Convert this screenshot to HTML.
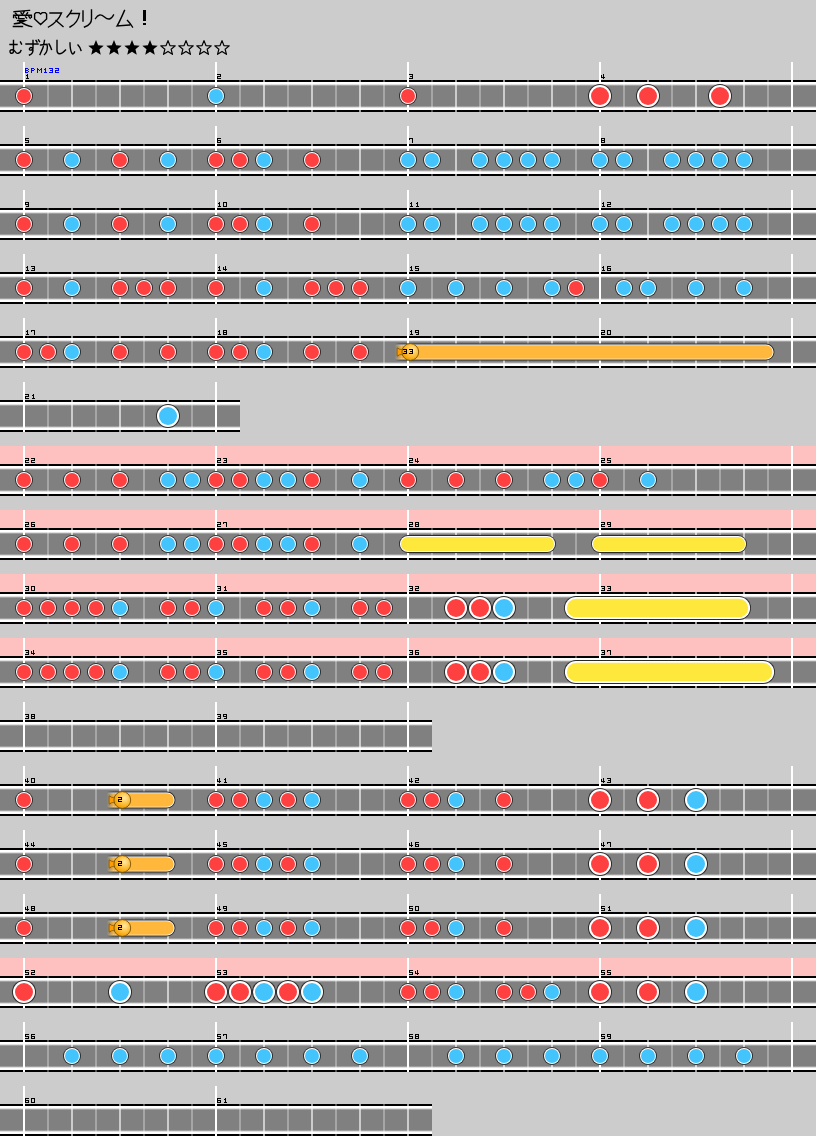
<!DOCTYPE html>
<html><head><meta charset="utf-8"><title>愛♡スクリ～ム！</title>
<style>
html,body{margin:0;padding:0;background:#cccccc;width:816px;height:1136px;overflow:hidden;font-family:"Liberation Sans",sans-serif;}
svg{display:block;}
</style></head><body>
<svg width="816" height="1136" viewBox="0 0 816 1136" shape-rendering="auto"><defs>
<linearGradient id="lane" x1="0" y1="0" x2="0" y2="1">
 <stop offset="0" stop-color="#ffffff"/>
 <stop offset="0.0714" stop-color="#ffffff"/>
 <stop offset="0.1429" stop-color="#808080"/>
 <stop offset="0.8571" stop-color="#808080"/>
 <stop offset="0.9286" stop-color="#ffffff"/>
 <stop offset="1" stop-color="#ffffff"/>
</linearGradient>
<radialGradient id="bhead" cx="0.62" cy="0.38" r="0.62">
 <stop offset="0" stop-color="#ffeaa8"/>
 <stop offset="0.55" stop-color="#ffc040"/>
 <stop offset="1" stop-color="#f0a000"/>
</radialGradient>
<linearGradient id="bmaskgrad" x1="0" y1="0" x2="1" y2="0">
 <stop offset="0" stop-color="#fff" stop-opacity="0"/>
 <stop offset="1" stop-color="#fff" stop-opacity="1"/>
</linearGradient>
<mask id="bm4_0" maskUnits="userSpaceOnUse" x="0" y="318" width="816" height="64"><rect x="394.8" y="318" width="7.5" height="64" fill="url(#bmaskgrad)"/><rect x="402.3" y="318" width="378.2" height="64" fill="#fff"/></mask><mask id="bm11_0" maskUnits="userSpaceOnUse" x="0" y="766" width="816" height="64"><rect x="106.8" y="766" width="7.5" height="64" fill="url(#bmaskgrad)"/><rect x="114.3" y="766" width="67.2" height="64" fill="#fff"/></mask><mask id="bm12_0" maskUnits="userSpaceOnUse" x="0" y="830" width="816" height="64"><rect x="106.8" y="830" width="7.5" height="64" fill="url(#bmaskgrad)"/><rect x="114.3" y="830" width="67.2" height="64" fill="#fff"/></mask><mask id="bm13_0" maskUnits="userSpaceOnUse" x="0" y="894" width="816" height="64"><rect x="106.8" y="894" width="7.5" height="64" fill="url(#bmaskgrad)"/><rect x="114.3" y="894" width="67.2" height="64" fill="#fff"/></mask></defs><rect x="0" y="0" width="816" height="1136" fill="#cccccc"/>
<rect x="0" y="80" width="816" height="32" fill="#000"/>
<rect x="0" y="82" width="816" height="28" fill="url(#lane)"/>
<rect x="47" y="80" width="2" height="32" fill="#fff" fill-opacity="0.3"/>
<rect x="71" y="80" width="2" height="32" fill="#fff" fill-opacity="0.6"/>
<rect x="95" y="80" width="2" height="32" fill="#fff" fill-opacity="0.3"/>
<rect x="119" y="80" width="2" height="32" fill="#fff" fill-opacity="0.6"/>
<rect x="143" y="80" width="2" height="32" fill="#fff" fill-opacity="0.3"/>
<rect x="167" y="80" width="2" height="32" fill="#fff" fill-opacity="0.6"/>
<rect x="191" y="80" width="2" height="32" fill="#fff" fill-opacity="0.3"/>
<rect x="239" y="80" width="2" height="32" fill="#fff" fill-opacity="0.3"/>
<rect x="263" y="80" width="2" height="32" fill="#fff" fill-opacity="0.6"/>
<rect x="287" y="80" width="2" height="32" fill="#fff" fill-opacity="0.3"/>
<rect x="311" y="80" width="2" height="32" fill="#fff" fill-opacity="0.6"/>
<rect x="335" y="80" width="2" height="32" fill="#fff" fill-opacity="0.3"/>
<rect x="359" y="80" width="2" height="32" fill="#fff" fill-opacity="0.6"/>
<rect x="383" y="80" width="2" height="32" fill="#fff" fill-opacity="0.3"/>
<rect x="431" y="80" width="2" height="32" fill="#fff" fill-opacity="0.3"/>
<rect x="455" y="80" width="2" height="32" fill="#fff" fill-opacity="0.6"/>
<rect x="479" y="80" width="2" height="32" fill="#fff" fill-opacity="0.3"/>
<rect x="503" y="80" width="2" height="32" fill="#fff" fill-opacity="0.6"/>
<rect x="527" y="80" width="2" height="32" fill="#fff" fill-opacity="0.3"/>
<rect x="551" y="80" width="2" height="32" fill="#fff" fill-opacity="0.6"/>
<rect x="575" y="80" width="2" height="32" fill="#fff" fill-opacity="0.3"/>
<rect x="623" y="80" width="2" height="32" fill="#fff" fill-opacity="0.3"/>
<rect x="647" y="80" width="2" height="32" fill="#fff" fill-opacity="0.6"/>
<rect x="671" y="80" width="2" height="32" fill="#fff" fill-opacity="0.3"/>
<rect x="695" y="80" width="2" height="32" fill="#fff" fill-opacity="0.6"/>
<rect x="719" y="80" width="2" height="32" fill="#fff" fill-opacity="0.3"/>
<rect x="743" y="80" width="2" height="32" fill="#fff" fill-opacity="0.6"/>
<rect x="767" y="80" width="2" height="32" fill="#fff" fill-opacity="0.3"/>
<rect x="23" y="62" width="2" height="50" fill="#fff"/>
<rect x="215" y="62" width="2" height="50" fill="#fff"/>
<rect x="407" y="62" width="2" height="50" fill="#fff"/>
<rect x="599" y="62" width="2" height="50" fill="#fff"/>
<rect x="791" y="62" width="2" height="50" fill="#fff"/>
<path d="M27,74h1v1h-1zM26,75h2v1h-2zM27,76h1v1h-1zM27,77h1v1h-1zM26,78h3v1h-3z" fill="#000"/>
<path d="M217,74h4v1h-4zM220,75h1v1h-1zM217,76h4v1h-4zM217,77h1v1h-1zM217,78h4v1h-4z" fill="#000"/>
<path d="M409,74h4v1h-4zM412,75h1v1h-1zM410,76h3v1h-3zM412,77h1v1h-1zM409,78h4v1h-4z" fill="#000"/>
<path d="M603,74h1v1h-1zM601,75h1v1h-1zM603,75h1v1h-1zM601,76h1v1h-1zM603,76h1v1h-1zM601,77h4v1h-4zM603,78h1v1h-1z" fill="#000"/>
<path d="M25,68h3v1h-3zM25,69h1v1h-1zM28,69h1v1h-1zM25,70h3v1h-3zM25,71h1v1h-1zM28,71h1v1h-1zM25,72h3v1h-3zM31,68h3v1h-3zM31,69h1v1h-1zM34,69h1v1h-1zM31,70h3v1h-3zM31,71h1v1h-1zM31,72h1v1h-1zM37,68h1v1h-1zM41,68h1v1h-1zM37,69h2v1h-2zM40,69h2v1h-2zM37,70h1v1h-1zM39,70h1v1h-1zM41,70h1v1h-1zM37,71h1v1h-1zM41,71h1v1h-1zM37,72h1v1h-1zM41,72h1v1h-1zM45,68h1v1h-1zM44,69h2v1h-2zM45,70h1v1h-1zM45,71h1v1h-1zM44,72h3v1h-3zM49,68h4v1h-4zM52,69h1v1h-1zM50,70h3v1h-3zM52,71h1v1h-1zM49,72h4v1h-4zM55,68h4v1h-4zM58,69h1v1h-1zM55,70h4v1h-4zM55,71h1v1h-1zM55,72h4v1h-4z" fill="#0000ff"/>
<circle cx="720" cy="96" r="12" fill="#2a2a2a"/>
<circle cx="720" cy="96" r="11" fill="#fff"/>
<circle cx="720" cy="96" r="9" fill="#ff4040"/>
<circle cx="648" cy="96" r="12" fill="#2a2a2a"/>
<circle cx="648" cy="96" r="11" fill="#fff"/>
<circle cx="648" cy="96" r="9" fill="#ff4040"/>
<circle cx="600" cy="96" r="12" fill="#2a2a2a"/>
<circle cx="600" cy="96" r="11" fill="#fff"/>
<circle cx="600" cy="96" r="9" fill="#ff4040"/>
<circle cx="408" cy="96" r="9" fill="#2a2a2a"/>
<circle cx="408" cy="96" r="8" fill="#fff"/>
<circle cx="408" cy="96" r="7" fill="#ff4040"/>
<circle cx="216" cy="96" r="9" fill="#2a2a2a"/>
<circle cx="216" cy="96" r="8" fill="#fff"/>
<circle cx="216" cy="96" r="7" fill="#44c4fc"/>
<circle cx="24" cy="96" r="9" fill="#2a2a2a"/>
<circle cx="24" cy="96" r="8" fill="#fff"/>
<circle cx="24" cy="96" r="7" fill="#ff4040"/>
<rect x="0" y="144" width="816" height="32" fill="#000"/>
<rect x="0" y="146" width="816" height="28" fill="url(#lane)"/>
<rect x="47" y="144" width="2" height="32" fill="#fff" fill-opacity="0.3"/>
<rect x="71" y="144" width="2" height="32" fill="#fff" fill-opacity="0.6"/>
<rect x="95" y="144" width="2" height="32" fill="#fff" fill-opacity="0.3"/>
<rect x="119" y="144" width="2" height="32" fill="#fff" fill-opacity="0.6"/>
<rect x="143" y="144" width="2" height="32" fill="#fff" fill-opacity="0.3"/>
<rect x="167" y="144" width="2" height="32" fill="#fff" fill-opacity="0.6"/>
<rect x="191" y="144" width="2" height="32" fill="#fff" fill-opacity="0.3"/>
<rect x="239" y="144" width="2" height="32" fill="#fff" fill-opacity="0.3"/>
<rect x="263" y="144" width="2" height="32" fill="#fff" fill-opacity="0.6"/>
<rect x="287" y="144" width="2" height="32" fill="#fff" fill-opacity="0.3"/>
<rect x="311" y="144" width="2" height="32" fill="#fff" fill-opacity="0.6"/>
<rect x="335" y="144" width="2" height="32" fill="#fff" fill-opacity="0.3"/>
<rect x="359" y="144" width="2" height="32" fill="#fff" fill-opacity="0.6"/>
<rect x="383" y="144" width="2" height="32" fill="#fff" fill-opacity="0.3"/>
<rect x="431" y="144" width="2" height="32" fill="#fff" fill-opacity="0.3"/>
<rect x="455" y="144" width="2" height="32" fill="#fff" fill-opacity="0.6"/>
<rect x="479" y="144" width="2" height="32" fill="#fff" fill-opacity="0.3"/>
<rect x="503" y="144" width="2" height="32" fill="#fff" fill-opacity="0.6"/>
<rect x="527" y="144" width="2" height="32" fill="#fff" fill-opacity="0.3"/>
<rect x="551" y="144" width="2" height="32" fill="#fff" fill-opacity="0.6"/>
<rect x="575" y="144" width="2" height="32" fill="#fff" fill-opacity="0.3"/>
<rect x="623" y="144" width="2" height="32" fill="#fff" fill-opacity="0.3"/>
<rect x="647" y="144" width="2" height="32" fill="#fff" fill-opacity="0.6"/>
<rect x="671" y="144" width="2" height="32" fill="#fff" fill-opacity="0.3"/>
<rect x="695" y="144" width="2" height="32" fill="#fff" fill-opacity="0.6"/>
<rect x="719" y="144" width="2" height="32" fill="#fff" fill-opacity="0.3"/>
<rect x="743" y="144" width="2" height="32" fill="#fff" fill-opacity="0.6"/>
<rect x="767" y="144" width="2" height="32" fill="#fff" fill-opacity="0.3"/>
<rect x="23" y="126" width="2" height="50" fill="#fff"/>
<rect x="215" y="126" width="2" height="50" fill="#fff"/>
<rect x="407" y="126" width="2" height="50" fill="#fff"/>
<rect x="599" y="126" width="2" height="50" fill="#fff"/>
<rect x="791" y="126" width="2" height="50" fill="#fff"/>
<path d="M25,138h4v1h-4zM25,139h1v1h-1zM25,140h4v1h-4zM28,141h1v1h-1zM25,142h4v1h-4z" fill="#000"/>
<path d="M217,138h4v1h-4zM217,139h1v1h-1zM217,140h4v1h-4zM217,141h1v1h-1zM220,141h1v1h-1zM217,142h4v1h-4z" fill="#000"/>
<path d="M409,138h4v1h-4zM409,139h1v1h-1zM412,139h1v1h-1zM412,140h1v1h-1zM412,141h1v1h-1zM412,142h1v1h-1z" fill="#000"/>
<path d="M601,138h4v1h-4zM601,139h1v1h-1zM604,139h1v1h-1zM601,140h4v1h-4zM601,141h1v1h-1zM604,141h1v1h-1zM601,142h4v1h-4z" fill="#000"/>
<circle cx="744" cy="160" r="9" fill="#2a2a2a"/>
<circle cx="744" cy="160" r="8" fill="#fff"/>
<circle cx="744" cy="160" r="7" fill="#44c4fc"/>
<circle cx="720" cy="160" r="9" fill="#2a2a2a"/>
<circle cx="720" cy="160" r="8" fill="#fff"/>
<circle cx="720" cy="160" r="7" fill="#44c4fc"/>
<circle cx="696" cy="160" r="9" fill="#2a2a2a"/>
<circle cx="696" cy="160" r="8" fill="#fff"/>
<circle cx="696" cy="160" r="7" fill="#44c4fc"/>
<circle cx="672" cy="160" r="9" fill="#2a2a2a"/>
<circle cx="672" cy="160" r="8" fill="#fff"/>
<circle cx="672" cy="160" r="7" fill="#44c4fc"/>
<circle cx="624" cy="160" r="9" fill="#2a2a2a"/>
<circle cx="624" cy="160" r="8" fill="#fff"/>
<circle cx="624" cy="160" r="7" fill="#44c4fc"/>
<circle cx="600" cy="160" r="9" fill="#2a2a2a"/>
<circle cx="600" cy="160" r="8" fill="#fff"/>
<circle cx="600" cy="160" r="7" fill="#44c4fc"/>
<circle cx="552" cy="160" r="9" fill="#2a2a2a"/>
<circle cx="552" cy="160" r="8" fill="#fff"/>
<circle cx="552" cy="160" r="7" fill="#44c4fc"/>
<circle cx="528" cy="160" r="9" fill="#2a2a2a"/>
<circle cx="528" cy="160" r="8" fill="#fff"/>
<circle cx="528" cy="160" r="7" fill="#44c4fc"/>
<circle cx="504" cy="160" r="9" fill="#2a2a2a"/>
<circle cx="504" cy="160" r="8" fill="#fff"/>
<circle cx="504" cy="160" r="7" fill="#44c4fc"/>
<circle cx="480" cy="160" r="9" fill="#2a2a2a"/>
<circle cx="480" cy="160" r="8" fill="#fff"/>
<circle cx="480" cy="160" r="7" fill="#44c4fc"/>
<circle cx="432" cy="160" r="9" fill="#2a2a2a"/>
<circle cx="432" cy="160" r="8" fill="#fff"/>
<circle cx="432" cy="160" r="7" fill="#44c4fc"/>
<circle cx="408" cy="160" r="9" fill="#2a2a2a"/>
<circle cx="408" cy="160" r="8" fill="#fff"/>
<circle cx="408" cy="160" r="7" fill="#44c4fc"/>
<circle cx="312" cy="160" r="9" fill="#2a2a2a"/>
<circle cx="312" cy="160" r="8" fill="#fff"/>
<circle cx="312" cy="160" r="7" fill="#ff4040"/>
<circle cx="264" cy="160" r="9" fill="#2a2a2a"/>
<circle cx="264" cy="160" r="8" fill="#fff"/>
<circle cx="264" cy="160" r="7" fill="#44c4fc"/>
<circle cx="240" cy="160" r="9" fill="#2a2a2a"/>
<circle cx="240" cy="160" r="8" fill="#fff"/>
<circle cx="240" cy="160" r="7" fill="#ff4040"/>
<circle cx="216" cy="160" r="9" fill="#2a2a2a"/>
<circle cx="216" cy="160" r="8" fill="#fff"/>
<circle cx="216" cy="160" r="7" fill="#ff4040"/>
<circle cx="168" cy="160" r="9" fill="#2a2a2a"/>
<circle cx="168" cy="160" r="8" fill="#fff"/>
<circle cx="168" cy="160" r="7" fill="#44c4fc"/>
<circle cx="120" cy="160" r="9" fill="#2a2a2a"/>
<circle cx="120" cy="160" r="8" fill="#fff"/>
<circle cx="120" cy="160" r="7" fill="#ff4040"/>
<circle cx="72" cy="160" r="9" fill="#2a2a2a"/>
<circle cx="72" cy="160" r="8" fill="#fff"/>
<circle cx="72" cy="160" r="7" fill="#44c4fc"/>
<circle cx="24" cy="160" r="9" fill="#2a2a2a"/>
<circle cx="24" cy="160" r="8" fill="#fff"/>
<circle cx="24" cy="160" r="7" fill="#ff4040"/>
<rect x="0" y="208" width="816" height="32" fill="#000"/>
<rect x="0" y="210" width="816" height="28" fill="url(#lane)"/>
<rect x="47" y="208" width="2" height="32" fill="#fff" fill-opacity="0.3"/>
<rect x="71" y="208" width="2" height="32" fill="#fff" fill-opacity="0.6"/>
<rect x="95" y="208" width="2" height="32" fill="#fff" fill-opacity="0.3"/>
<rect x="119" y="208" width="2" height="32" fill="#fff" fill-opacity="0.6"/>
<rect x="143" y="208" width="2" height="32" fill="#fff" fill-opacity="0.3"/>
<rect x="167" y="208" width="2" height="32" fill="#fff" fill-opacity="0.6"/>
<rect x="191" y="208" width="2" height="32" fill="#fff" fill-opacity="0.3"/>
<rect x="239" y="208" width="2" height="32" fill="#fff" fill-opacity="0.3"/>
<rect x="263" y="208" width="2" height="32" fill="#fff" fill-opacity="0.6"/>
<rect x="287" y="208" width="2" height="32" fill="#fff" fill-opacity="0.3"/>
<rect x="311" y="208" width="2" height="32" fill="#fff" fill-opacity="0.6"/>
<rect x="335" y="208" width="2" height="32" fill="#fff" fill-opacity="0.3"/>
<rect x="359" y="208" width="2" height="32" fill="#fff" fill-opacity="0.6"/>
<rect x="383" y="208" width="2" height="32" fill="#fff" fill-opacity="0.3"/>
<rect x="431" y="208" width="2" height="32" fill="#fff" fill-opacity="0.3"/>
<rect x="455" y="208" width="2" height="32" fill="#fff" fill-opacity="0.6"/>
<rect x="479" y="208" width="2" height="32" fill="#fff" fill-opacity="0.3"/>
<rect x="503" y="208" width="2" height="32" fill="#fff" fill-opacity="0.6"/>
<rect x="527" y="208" width="2" height="32" fill="#fff" fill-opacity="0.3"/>
<rect x="551" y="208" width="2" height="32" fill="#fff" fill-opacity="0.6"/>
<rect x="575" y="208" width="2" height="32" fill="#fff" fill-opacity="0.3"/>
<rect x="623" y="208" width="2" height="32" fill="#fff" fill-opacity="0.3"/>
<rect x="647" y="208" width="2" height="32" fill="#fff" fill-opacity="0.6"/>
<rect x="671" y="208" width="2" height="32" fill="#fff" fill-opacity="0.3"/>
<rect x="695" y="208" width="2" height="32" fill="#fff" fill-opacity="0.6"/>
<rect x="719" y="208" width="2" height="32" fill="#fff" fill-opacity="0.3"/>
<rect x="743" y="208" width="2" height="32" fill="#fff" fill-opacity="0.6"/>
<rect x="767" y="208" width="2" height="32" fill="#fff" fill-opacity="0.3"/>
<rect x="23" y="190" width="2" height="50" fill="#fff"/>
<rect x="215" y="190" width="2" height="50" fill="#fff"/>
<rect x="407" y="190" width="2" height="50" fill="#fff"/>
<rect x="599" y="190" width="2" height="50" fill="#fff"/>
<rect x="791" y="190" width="2" height="50" fill="#fff"/>
<path d="M25,202h4v1h-4zM25,203h1v1h-1zM28,203h1v1h-1zM25,204h4v1h-4zM28,205h1v1h-1zM26,206h3v1h-3z" fill="#000"/>
<path d="M219,202h1v1h-1zM218,203h2v1h-2zM219,204h1v1h-1zM219,205h1v1h-1zM218,206h3v1h-3zM223,202h4v1h-4zM223,203h1v1h-1zM226,203h1v1h-1zM223,204h1v1h-1zM226,204h1v1h-1zM223,205h1v1h-1zM226,205h1v1h-1zM223,206h4v1h-4z" fill="#000"/>
<path d="M411,202h1v1h-1zM410,203h2v1h-2zM411,204h1v1h-1zM411,205h1v1h-1zM410,206h3v1h-3zM417,202h1v1h-1zM416,203h2v1h-2zM417,204h1v1h-1zM417,205h1v1h-1zM416,206h3v1h-3z" fill="#000"/>
<path d="M603,202h1v1h-1zM602,203h2v1h-2zM603,204h1v1h-1zM603,205h1v1h-1zM602,206h3v1h-3zM607,202h4v1h-4zM610,203h1v1h-1zM607,204h4v1h-4zM607,205h1v1h-1zM607,206h4v1h-4z" fill="#000"/>
<circle cx="744" cy="224" r="9" fill="#2a2a2a"/>
<circle cx="744" cy="224" r="8" fill="#fff"/>
<circle cx="744" cy="224" r="7" fill="#44c4fc"/>
<circle cx="720" cy="224" r="9" fill="#2a2a2a"/>
<circle cx="720" cy="224" r="8" fill="#fff"/>
<circle cx="720" cy="224" r="7" fill="#44c4fc"/>
<circle cx="696" cy="224" r="9" fill="#2a2a2a"/>
<circle cx="696" cy="224" r="8" fill="#fff"/>
<circle cx="696" cy="224" r="7" fill="#44c4fc"/>
<circle cx="672" cy="224" r="9" fill="#2a2a2a"/>
<circle cx="672" cy="224" r="8" fill="#fff"/>
<circle cx="672" cy="224" r="7" fill="#44c4fc"/>
<circle cx="624" cy="224" r="9" fill="#2a2a2a"/>
<circle cx="624" cy="224" r="8" fill="#fff"/>
<circle cx="624" cy="224" r="7" fill="#44c4fc"/>
<circle cx="600" cy="224" r="9" fill="#2a2a2a"/>
<circle cx="600" cy="224" r="8" fill="#fff"/>
<circle cx="600" cy="224" r="7" fill="#44c4fc"/>
<circle cx="552" cy="224" r="9" fill="#2a2a2a"/>
<circle cx="552" cy="224" r="8" fill="#fff"/>
<circle cx="552" cy="224" r="7" fill="#44c4fc"/>
<circle cx="528" cy="224" r="9" fill="#2a2a2a"/>
<circle cx="528" cy="224" r="8" fill="#fff"/>
<circle cx="528" cy="224" r="7" fill="#44c4fc"/>
<circle cx="504" cy="224" r="9" fill="#2a2a2a"/>
<circle cx="504" cy="224" r="8" fill="#fff"/>
<circle cx="504" cy="224" r="7" fill="#44c4fc"/>
<circle cx="480" cy="224" r="9" fill="#2a2a2a"/>
<circle cx="480" cy="224" r="8" fill="#fff"/>
<circle cx="480" cy="224" r="7" fill="#44c4fc"/>
<circle cx="432" cy="224" r="9" fill="#2a2a2a"/>
<circle cx="432" cy="224" r="8" fill="#fff"/>
<circle cx="432" cy="224" r="7" fill="#44c4fc"/>
<circle cx="408" cy="224" r="9" fill="#2a2a2a"/>
<circle cx="408" cy="224" r="8" fill="#fff"/>
<circle cx="408" cy="224" r="7" fill="#44c4fc"/>
<circle cx="312" cy="224" r="9" fill="#2a2a2a"/>
<circle cx="312" cy="224" r="8" fill="#fff"/>
<circle cx="312" cy="224" r="7" fill="#ff4040"/>
<circle cx="264" cy="224" r="9" fill="#2a2a2a"/>
<circle cx="264" cy="224" r="8" fill="#fff"/>
<circle cx="264" cy="224" r="7" fill="#44c4fc"/>
<circle cx="240" cy="224" r="9" fill="#2a2a2a"/>
<circle cx="240" cy="224" r="8" fill="#fff"/>
<circle cx="240" cy="224" r="7" fill="#ff4040"/>
<circle cx="216" cy="224" r="9" fill="#2a2a2a"/>
<circle cx="216" cy="224" r="8" fill="#fff"/>
<circle cx="216" cy="224" r="7" fill="#ff4040"/>
<circle cx="168" cy="224" r="9" fill="#2a2a2a"/>
<circle cx="168" cy="224" r="8" fill="#fff"/>
<circle cx="168" cy="224" r="7" fill="#44c4fc"/>
<circle cx="120" cy="224" r="9" fill="#2a2a2a"/>
<circle cx="120" cy="224" r="8" fill="#fff"/>
<circle cx="120" cy="224" r="7" fill="#ff4040"/>
<circle cx="72" cy="224" r="9" fill="#2a2a2a"/>
<circle cx="72" cy="224" r="8" fill="#fff"/>
<circle cx="72" cy="224" r="7" fill="#44c4fc"/>
<circle cx="24" cy="224" r="9" fill="#2a2a2a"/>
<circle cx="24" cy="224" r="8" fill="#fff"/>
<circle cx="24" cy="224" r="7" fill="#ff4040"/>
<rect x="0" y="272" width="816" height="32" fill="#000"/>
<rect x="0" y="274" width="816" height="28" fill="url(#lane)"/>
<rect x="47" y="272" width="2" height="32" fill="#fff" fill-opacity="0.3"/>
<rect x="71" y="272" width="2" height="32" fill="#fff" fill-opacity="0.6"/>
<rect x="95" y="272" width="2" height="32" fill="#fff" fill-opacity="0.3"/>
<rect x="119" y="272" width="2" height="32" fill="#fff" fill-opacity="0.6"/>
<rect x="143" y="272" width="2" height="32" fill="#fff" fill-opacity="0.3"/>
<rect x="167" y="272" width="2" height="32" fill="#fff" fill-opacity="0.6"/>
<rect x="191" y="272" width="2" height="32" fill="#fff" fill-opacity="0.3"/>
<rect x="239" y="272" width="2" height="32" fill="#fff" fill-opacity="0.3"/>
<rect x="263" y="272" width="2" height="32" fill="#fff" fill-opacity="0.6"/>
<rect x="287" y="272" width="2" height="32" fill="#fff" fill-opacity="0.3"/>
<rect x="311" y="272" width="2" height="32" fill="#fff" fill-opacity="0.6"/>
<rect x="335" y="272" width="2" height="32" fill="#fff" fill-opacity="0.3"/>
<rect x="359" y="272" width="2" height="32" fill="#fff" fill-opacity="0.6"/>
<rect x="383" y="272" width="2" height="32" fill="#fff" fill-opacity="0.3"/>
<rect x="431" y="272" width="2" height="32" fill="#fff" fill-opacity="0.3"/>
<rect x="455" y="272" width="2" height="32" fill="#fff" fill-opacity="0.6"/>
<rect x="479" y="272" width="2" height="32" fill="#fff" fill-opacity="0.3"/>
<rect x="503" y="272" width="2" height="32" fill="#fff" fill-opacity="0.6"/>
<rect x="527" y="272" width="2" height="32" fill="#fff" fill-opacity="0.3"/>
<rect x="551" y="272" width="2" height="32" fill="#fff" fill-opacity="0.6"/>
<rect x="575" y="272" width="2" height="32" fill="#fff" fill-opacity="0.3"/>
<rect x="623" y="272" width="2" height="32" fill="#fff" fill-opacity="0.3"/>
<rect x="647" y="272" width="2" height="32" fill="#fff" fill-opacity="0.6"/>
<rect x="671" y="272" width="2" height="32" fill="#fff" fill-opacity="0.3"/>
<rect x="695" y="272" width="2" height="32" fill="#fff" fill-opacity="0.6"/>
<rect x="719" y="272" width="2" height="32" fill="#fff" fill-opacity="0.3"/>
<rect x="743" y="272" width="2" height="32" fill="#fff" fill-opacity="0.6"/>
<rect x="767" y="272" width="2" height="32" fill="#fff" fill-opacity="0.3"/>
<rect x="23" y="254" width="2" height="50" fill="#fff"/>
<rect x="215" y="254" width="2" height="50" fill="#fff"/>
<rect x="407" y="254" width="2" height="50" fill="#fff"/>
<rect x="599" y="254" width="2" height="50" fill="#fff"/>
<rect x="791" y="254" width="2" height="50" fill="#fff"/>
<path d="M27,266h1v1h-1zM26,267h2v1h-2zM27,268h1v1h-1zM27,269h1v1h-1zM26,270h3v1h-3zM31,266h4v1h-4zM34,267h1v1h-1zM32,268h3v1h-3zM34,269h1v1h-1zM31,270h4v1h-4z" fill="#000"/>
<path d="M219,266h1v1h-1zM218,267h2v1h-2zM219,268h1v1h-1zM219,269h1v1h-1zM218,270h3v1h-3zM225,266h1v1h-1zM223,267h1v1h-1zM225,267h1v1h-1zM223,268h1v1h-1zM225,268h1v1h-1zM223,269h4v1h-4zM225,270h1v1h-1z" fill="#000"/>
<path d="M411,266h1v1h-1zM410,267h2v1h-2zM411,268h1v1h-1zM411,269h1v1h-1zM410,270h3v1h-3zM415,266h4v1h-4zM415,267h1v1h-1zM415,268h4v1h-4zM418,269h1v1h-1zM415,270h4v1h-4z" fill="#000"/>
<path d="M603,266h1v1h-1zM602,267h2v1h-2zM603,268h1v1h-1zM603,269h1v1h-1zM602,270h3v1h-3zM607,266h4v1h-4zM607,267h1v1h-1zM607,268h4v1h-4zM607,269h1v1h-1zM610,269h1v1h-1zM607,270h4v1h-4z" fill="#000"/>
<circle cx="744" cy="288" r="9" fill="#2a2a2a"/>
<circle cx="744" cy="288" r="8" fill="#fff"/>
<circle cx="744" cy="288" r="7" fill="#44c4fc"/>
<circle cx="696" cy="288" r="9" fill="#2a2a2a"/>
<circle cx="696" cy="288" r="8" fill="#fff"/>
<circle cx="696" cy="288" r="7" fill="#44c4fc"/>
<circle cx="648" cy="288" r="9" fill="#2a2a2a"/>
<circle cx="648" cy="288" r="8" fill="#fff"/>
<circle cx="648" cy="288" r="7" fill="#44c4fc"/>
<circle cx="624" cy="288" r="9" fill="#2a2a2a"/>
<circle cx="624" cy="288" r="8" fill="#fff"/>
<circle cx="624" cy="288" r="7" fill="#44c4fc"/>
<circle cx="576" cy="288" r="9" fill="#2a2a2a"/>
<circle cx="576" cy="288" r="8" fill="#fff"/>
<circle cx="576" cy="288" r="7" fill="#ff4040"/>
<circle cx="552" cy="288" r="9" fill="#2a2a2a"/>
<circle cx="552" cy="288" r="8" fill="#fff"/>
<circle cx="552" cy="288" r="7" fill="#44c4fc"/>
<circle cx="504" cy="288" r="9" fill="#2a2a2a"/>
<circle cx="504" cy="288" r="8" fill="#fff"/>
<circle cx="504" cy="288" r="7" fill="#44c4fc"/>
<circle cx="456" cy="288" r="9" fill="#2a2a2a"/>
<circle cx="456" cy="288" r="8" fill="#fff"/>
<circle cx="456" cy="288" r="7" fill="#44c4fc"/>
<circle cx="408" cy="288" r="9" fill="#2a2a2a"/>
<circle cx="408" cy="288" r="8" fill="#fff"/>
<circle cx="408" cy="288" r="7" fill="#44c4fc"/>
<circle cx="360" cy="288" r="9" fill="#2a2a2a"/>
<circle cx="360" cy="288" r="8" fill="#fff"/>
<circle cx="360" cy="288" r="7" fill="#ff4040"/>
<circle cx="336" cy="288" r="9" fill="#2a2a2a"/>
<circle cx="336" cy="288" r="8" fill="#fff"/>
<circle cx="336" cy="288" r="7" fill="#ff4040"/>
<circle cx="312" cy="288" r="9" fill="#2a2a2a"/>
<circle cx="312" cy="288" r="8" fill="#fff"/>
<circle cx="312" cy="288" r="7" fill="#ff4040"/>
<circle cx="264" cy="288" r="9" fill="#2a2a2a"/>
<circle cx="264" cy="288" r="8" fill="#fff"/>
<circle cx="264" cy="288" r="7" fill="#44c4fc"/>
<circle cx="216" cy="288" r="9" fill="#2a2a2a"/>
<circle cx="216" cy="288" r="8" fill="#fff"/>
<circle cx="216" cy="288" r="7" fill="#ff4040"/>
<circle cx="168" cy="288" r="9" fill="#2a2a2a"/>
<circle cx="168" cy="288" r="8" fill="#fff"/>
<circle cx="168" cy="288" r="7" fill="#ff4040"/>
<circle cx="144" cy="288" r="9" fill="#2a2a2a"/>
<circle cx="144" cy="288" r="8" fill="#fff"/>
<circle cx="144" cy="288" r="7" fill="#ff4040"/>
<circle cx="120" cy="288" r="9" fill="#2a2a2a"/>
<circle cx="120" cy="288" r="8" fill="#fff"/>
<circle cx="120" cy="288" r="7" fill="#ff4040"/>
<circle cx="72" cy="288" r="9" fill="#2a2a2a"/>
<circle cx="72" cy="288" r="8" fill="#fff"/>
<circle cx="72" cy="288" r="7" fill="#44c4fc"/>
<circle cx="24" cy="288" r="9" fill="#2a2a2a"/>
<circle cx="24" cy="288" r="8" fill="#fff"/>
<circle cx="24" cy="288" r="7" fill="#ff4040"/>
<rect x="0" y="336" width="816" height="32" fill="#000"/>
<rect x="0" y="338" width="816" height="28" fill="url(#lane)"/>
<rect x="47" y="336" width="2" height="32" fill="#fff" fill-opacity="0.3"/>
<rect x="71" y="336" width="2" height="32" fill="#fff" fill-opacity="0.6"/>
<rect x="95" y="336" width="2" height="32" fill="#fff" fill-opacity="0.3"/>
<rect x="119" y="336" width="2" height="32" fill="#fff" fill-opacity="0.6"/>
<rect x="143" y="336" width="2" height="32" fill="#fff" fill-opacity="0.3"/>
<rect x="167" y="336" width="2" height="32" fill="#fff" fill-opacity="0.6"/>
<rect x="191" y="336" width="2" height="32" fill="#fff" fill-opacity="0.3"/>
<rect x="239" y="336" width="2" height="32" fill="#fff" fill-opacity="0.3"/>
<rect x="263" y="336" width="2" height="32" fill="#fff" fill-opacity="0.6"/>
<rect x="287" y="336" width="2" height="32" fill="#fff" fill-opacity="0.3"/>
<rect x="311" y="336" width="2" height="32" fill="#fff" fill-opacity="0.6"/>
<rect x="335" y="336" width="2" height="32" fill="#fff" fill-opacity="0.3"/>
<rect x="359" y="336" width="2" height="32" fill="#fff" fill-opacity="0.6"/>
<rect x="383" y="336" width="2" height="32" fill="#fff" fill-opacity="0.3"/>
<rect x="431" y="336" width="2" height="32" fill="#fff" fill-opacity="0.3"/>
<rect x="455" y="336" width="2" height="32" fill="#fff" fill-opacity="0.6"/>
<rect x="479" y="336" width="2" height="32" fill="#fff" fill-opacity="0.3"/>
<rect x="503" y="336" width="2" height="32" fill="#fff" fill-opacity="0.6"/>
<rect x="527" y="336" width="2" height="32" fill="#fff" fill-opacity="0.3"/>
<rect x="551" y="336" width="2" height="32" fill="#fff" fill-opacity="0.6"/>
<rect x="575" y="336" width="2" height="32" fill="#fff" fill-opacity="0.3"/>
<rect x="623" y="336" width="2" height="32" fill="#fff" fill-opacity="0.3"/>
<rect x="647" y="336" width="2" height="32" fill="#fff" fill-opacity="0.6"/>
<rect x="671" y="336" width="2" height="32" fill="#fff" fill-opacity="0.3"/>
<rect x="695" y="336" width="2" height="32" fill="#fff" fill-opacity="0.6"/>
<rect x="719" y="336" width="2" height="32" fill="#fff" fill-opacity="0.3"/>
<rect x="743" y="336" width="2" height="32" fill="#fff" fill-opacity="0.6"/>
<rect x="767" y="336" width="2" height="32" fill="#fff" fill-opacity="0.3"/>
<rect x="23" y="318" width="2" height="50" fill="#fff"/>
<rect x="215" y="318" width="2" height="50" fill="#fff"/>
<rect x="407" y="318" width="2" height="50" fill="#fff"/>
<rect x="599" y="318" width="2" height="50" fill="#fff"/>
<rect x="791" y="318" width="2" height="50" fill="#fff"/>
<path d="M27,330h1v1h-1zM26,331h2v1h-2zM27,332h1v1h-1zM27,333h1v1h-1zM26,334h3v1h-3zM31,330h4v1h-4zM31,331h1v1h-1zM34,331h1v1h-1zM34,332h1v1h-1zM34,333h1v1h-1zM34,334h1v1h-1z" fill="#000"/>
<path d="M219,330h1v1h-1zM218,331h2v1h-2zM219,332h1v1h-1zM219,333h1v1h-1zM218,334h3v1h-3zM223,330h4v1h-4zM223,331h1v1h-1zM226,331h1v1h-1zM223,332h4v1h-4zM223,333h1v1h-1zM226,333h1v1h-1zM223,334h4v1h-4z" fill="#000"/>
<path d="M411,330h1v1h-1zM410,331h2v1h-2zM411,332h1v1h-1zM411,333h1v1h-1zM410,334h3v1h-3zM415,330h4v1h-4zM415,331h1v1h-1zM418,331h1v1h-1zM415,332h4v1h-4zM418,333h1v1h-1zM416,334h3v1h-3z" fill="#000"/>
<path d="M601,330h4v1h-4zM604,331h1v1h-1zM601,332h4v1h-4zM601,333h1v1h-1zM601,334h4v1h-4zM607,330h4v1h-4zM607,331h1v1h-1zM610,331h1v1h-1zM607,332h1v1h-1zM610,332h1v1h-1zM607,333h1v1h-1zM610,333h1v1h-1zM607,334h4v1h-4z" fill="#000"/>
<g mask="url(#bm4_0)">
<rect x="387.8" y="343.5" width="386.7" height="17.0" rx="8.5" fill="#2a2a2a"/>
<rect x="388.7" y="344.4" width="384.9" height="15.2" rx="7.6" fill="#fff"/>
<rect x="389.6" y="345.3" width="383.09999999999997" height="13.399999999999999" rx="6.699999999999999" fill="#ffb83c"/>
</g>
<path d="M397.1,348 L398.1,348 C398.8,349.5 400.3,349.7 403.3,349 L403.3,355 C400.3,354.3 398.8,354.5 398.1,356 L397.1,356 Z" fill="#ff9c00" stroke="#6a4800" stroke-width="0.7"/>
<circle cx="410.3" cy="352" r="8.4" fill="url(#bhead)" stroke="#6a4800" stroke-width="0.8"/>
<path d="M403,349h4v1h-4zM406,350h1v1h-1zM404,351h3v1h-3zM406,352h1v1h-1zM403,353h4v1h-4zM409,349h4v1h-4zM412,350h1v1h-1zM410,351h3v1h-3zM412,352h1v1h-1zM409,353h4v1h-4z" fill="#000"/>
<circle cx="360" cy="352" r="9" fill="#2a2a2a"/>
<circle cx="360" cy="352" r="8" fill="#fff"/>
<circle cx="360" cy="352" r="7" fill="#ff4040"/>
<circle cx="312" cy="352" r="9" fill="#2a2a2a"/>
<circle cx="312" cy="352" r="8" fill="#fff"/>
<circle cx="312" cy="352" r="7" fill="#ff4040"/>
<circle cx="264" cy="352" r="9" fill="#2a2a2a"/>
<circle cx="264" cy="352" r="8" fill="#fff"/>
<circle cx="264" cy="352" r="7" fill="#44c4fc"/>
<circle cx="240" cy="352" r="9" fill="#2a2a2a"/>
<circle cx="240" cy="352" r="8" fill="#fff"/>
<circle cx="240" cy="352" r="7" fill="#ff4040"/>
<circle cx="216" cy="352" r="9" fill="#2a2a2a"/>
<circle cx="216" cy="352" r="8" fill="#fff"/>
<circle cx="216" cy="352" r="7" fill="#ff4040"/>
<circle cx="168" cy="352" r="9" fill="#2a2a2a"/>
<circle cx="168" cy="352" r="8" fill="#fff"/>
<circle cx="168" cy="352" r="7" fill="#ff4040"/>
<circle cx="120" cy="352" r="9" fill="#2a2a2a"/>
<circle cx="120" cy="352" r="8" fill="#fff"/>
<circle cx="120" cy="352" r="7" fill="#ff4040"/>
<circle cx="72" cy="352" r="9" fill="#2a2a2a"/>
<circle cx="72" cy="352" r="8" fill="#fff"/>
<circle cx="72" cy="352" r="7" fill="#44c4fc"/>
<circle cx="48" cy="352" r="9" fill="#2a2a2a"/>
<circle cx="48" cy="352" r="8" fill="#fff"/>
<circle cx="48" cy="352" r="7" fill="#ff4040"/>
<circle cx="24" cy="352" r="9" fill="#2a2a2a"/>
<circle cx="24" cy="352" r="8" fill="#fff"/>
<circle cx="24" cy="352" r="7" fill="#ff4040"/>
<rect x="0" y="400" width="240" height="32" fill="#000"/>
<rect x="0" y="402" width="240" height="28" fill="url(#lane)"/>
<rect x="47" y="400" width="2" height="32" fill="#fff" fill-opacity="0.3"/>
<rect x="71" y="400" width="2" height="32" fill="#fff" fill-opacity="0.6"/>
<rect x="95" y="400" width="2" height="32" fill="#fff" fill-opacity="0.3"/>
<rect x="119" y="400" width="2" height="32" fill="#fff" fill-opacity="0.6"/>
<rect x="143" y="400" width="2" height="32" fill="#fff" fill-opacity="0.3"/>
<rect x="167" y="400" width="2" height="32" fill="#fff" fill-opacity="0.6"/>
<rect x="191" y="400" width="2" height="32" fill="#fff" fill-opacity="0.3"/>
<rect x="23" y="382" width="2" height="50" fill="#fff"/>
<rect x="215" y="382" width="2" height="50" fill="#fff"/>
<path d="M25,394h4v1h-4zM28,395h1v1h-1zM25,396h4v1h-4zM25,397h1v1h-1zM25,398h4v1h-4zM33,394h1v1h-1zM32,395h2v1h-2zM33,396h1v1h-1zM33,397h1v1h-1zM32,398h3v1h-3z" fill="#000"/>
<circle cx="168" cy="416" r="12" fill="#2a2a2a"/>
<circle cx="168" cy="416" r="11" fill="#fff"/>
<circle cx="168" cy="416" r="9" fill="#44c4fc"/>
<rect x="0" y="446" width="816" height="18" fill="#ffc0c0"/>
<rect x="0" y="464" width="816" height="32" fill="#000"/>
<rect x="0" y="466" width="816" height="28" fill="url(#lane)"/>
<rect x="47" y="464" width="2" height="32" fill="#fff" fill-opacity="0.3"/>
<rect x="71" y="464" width="2" height="32" fill="#fff" fill-opacity="0.6"/>
<rect x="95" y="464" width="2" height="32" fill="#fff" fill-opacity="0.3"/>
<rect x="119" y="464" width="2" height="32" fill="#fff" fill-opacity="0.6"/>
<rect x="143" y="464" width="2" height="32" fill="#fff" fill-opacity="0.3"/>
<rect x="167" y="464" width="2" height="32" fill="#fff" fill-opacity="0.6"/>
<rect x="191" y="464" width="2" height="32" fill="#fff" fill-opacity="0.3"/>
<rect x="239" y="464" width="2" height="32" fill="#fff" fill-opacity="0.3"/>
<rect x="263" y="464" width="2" height="32" fill="#fff" fill-opacity="0.6"/>
<rect x="287" y="464" width="2" height="32" fill="#fff" fill-opacity="0.3"/>
<rect x="311" y="464" width="2" height="32" fill="#fff" fill-opacity="0.6"/>
<rect x="335" y="464" width="2" height="32" fill="#fff" fill-opacity="0.3"/>
<rect x="359" y="464" width="2" height="32" fill="#fff" fill-opacity="0.6"/>
<rect x="383" y="464" width="2" height="32" fill="#fff" fill-opacity="0.3"/>
<rect x="431" y="464" width="2" height="32" fill="#fff" fill-opacity="0.3"/>
<rect x="455" y="464" width="2" height="32" fill="#fff" fill-opacity="0.6"/>
<rect x="479" y="464" width="2" height="32" fill="#fff" fill-opacity="0.3"/>
<rect x="503" y="464" width="2" height="32" fill="#fff" fill-opacity="0.6"/>
<rect x="527" y="464" width="2" height="32" fill="#fff" fill-opacity="0.3"/>
<rect x="551" y="464" width="2" height="32" fill="#fff" fill-opacity="0.6"/>
<rect x="575" y="464" width="2" height="32" fill="#fff" fill-opacity="0.3"/>
<rect x="623" y="464" width="2" height="32" fill="#fff" fill-opacity="0.3"/>
<rect x="647" y="464" width="2" height="32" fill="#fff" fill-opacity="0.6"/>
<rect x="671" y="464" width="2" height="32" fill="#fff" fill-opacity="0.3"/>
<rect x="695" y="464" width="2" height="32" fill="#fff" fill-opacity="0.6"/>
<rect x="719" y="464" width="2" height="32" fill="#fff" fill-opacity="0.3"/>
<rect x="743" y="464" width="2" height="32" fill="#fff" fill-opacity="0.6"/>
<rect x="767" y="464" width="2" height="32" fill="#fff" fill-opacity="0.3"/>
<rect x="23" y="446" width="2" height="50" fill="#fff"/>
<rect x="215" y="446" width="2" height="50" fill="#fff"/>
<rect x="407" y="446" width="2" height="50" fill="#fff"/>
<rect x="599" y="446" width="2" height="50" fill="#fff"/>
<rect x="791" y="446" width="2" height="50" fill="#fff"/>
<path d="M25,458h4v1h-4zM28,459h1v1h-1zM25,460h4v1h-4zM25,461h1v1h-1zM25,462h4v1h-4zM31,458h4v1h-4zM34,459h1v1h-1zM31,460h4v1h-4zM31,461h1v1h-1zM31,462h4v1h-4z" fill="#000"/>
<path d="M217,458h4v1h-4zM220,459h1v1h-1zM217,460h4v1h-4zM217,461h1v1h-1zM217,462h4v1h-4zM223,458h4v1h-4zM226,459h1v1h-1zM224,460h3v1h-3zM226,461h1v1h-1zM223,462h4v1h-4z" fill="#000"/>
<path d="M409,458h4v1h-4zM412,459h1v1h-1zM409,460h4v1h-4zM409,461h1v1h-1zM409,462h4v1h-4zM417,458h1v1h-1zM415,459h1v1h-1zM417,459h1v1h-1zM415,460h1v1h-1zM417,460h1v1h-1zM415,461h4v1h-4zM417,462h1v1h-1z" fill="#000"/>
<path d="M601,458h4v1h-4zM604,459h1v1h-1zM601,460h4v1h-4zM601,461h1v1h-1zM601,462h4v1h-4zM607,458h4v1h-4zM607,459h1v1h-1zM607,460h4v1h-4zM610,461h1v1h-1zM607,462h4v1h-4z" fill="#000"/>
<circle cx="648" cy="480" r="9" fill="#2a2a2a"/>
<circle cx="648" cy="480" r="8" fill="#fff"/>
<circle cx="648" cy="480" r="7" fill="#44c4fc"/>
<circle cx="600" cy="480" r="9" fill="#2a2a2a"/>
<circle cx="600" cy="480" r="8" fill="#fff"/>
<circle cx="600" cy="480" r="7" fill="#ff4040"/>
<circle cx="576" cy="480" r="9" fill="#2a2a2a"/>
<circle cx="576" cy="480" r="8" fill="#fff"/>
<circle cx="576" cy="480" r="7" fill="#44c4fc"/>
<circle cx="552" cy="480" r="9" fill="#2a2a2a"/>
<circle cx="552" cy="480" r="8" fill="#fff"/>
<circle cx="552" cy="480" r="7" fill="#44c4fc"/>
<circle cx="504" cy="480" r="9" fill="#2a2a2a"/>
<circle cx="504" cy="480" r="8" fill="#fff"/>
<circle cx="504" cy="480" r="7" fill="#ff4040"/>
<circle cx="456" cy="480" r="9" fill="#2a2a2a"/>
<circle cx="456" cy="480" r="8" fill="#fff"/>
<circle cx="456" cy="480" r="7" fill="#ff4040"/>
<circle cx="408" cy="480" r="9" fill="#2a2a2a"/>
<circle cx="408" cy="480" r="8" fill="#fff"/>
<circle cx="408" cy="480" r="7" fill="#ff4040"/>
<circle cx="360" cy="480" r="9" fill="#2a2a2a"/>
<circle cx="360" cy="480" r="8" fill="#fff"/>
<circle cx="360" cy="480" r="7" fill="#44c4fc"/>
<circle cx="312" cy="480" r="9" fill="#2a2a2a"/>
<circle cx="312" cy="480" r="8" fill="#fff"/>
<circle cx="312" cy="480" r="7" fill="#ff4040"/>
<circle cx="288" cy="480" r="9" fill="#2a2a2a"/>
<circle cx="288" cy="480" r="8" fill="#fff"/>
<circle cx="288" cy="480" r="7" fill="#44c4fc"/>
<circle cx="264" cy="480" r="9" fill="#2a2a2a"/>
<circle cx="264" cy="480" r="8" fill="#fff"/>
<circle cx="264" cy="480" r="7" fill="#44c4fc"/>
<circle cx="240" cy="480" r="9" fill="#2a2a2a"/>
<circle cx="240" cy="480" r="8" fill="#fff"/>
<circle cx="240" cy="480" r="7" fill="#ff4040"/>
<circle cx="216" cy="480" r="9" fill="#2a2a2a"/>
<circle cx="216" cy="480" r="8" fill="#fff"/>
<circle cx="216" cy="480" r="7" fill="#ff4040"/>
<circle cx="192" cy="480" r="9" fill="#2a2a2a"/>
<circle cx="192" cy="480" r="8" fill="#fff"/>
<circle cx="192" cy="480" r="7" fill="#44c4fc"/>
<circle cx="168" cy="480" r="9" fill="#2a2a2a"/>
<circle cx="168" cy="480" r="8" fill="#fff"/>
<circle cx="168" cy="480" r="7" fill="#44c4fc"/>
<circle cx="120" cy="480" r="9" fill="#2a2a2a"/>
<circle cx="120" cy="480" r="8" fill="#fff"/>
<circle cx="120" cy="480" r="7" fill="#ff4040"/>
<circle cx="72" cy="480" r="9" fill="#2a2a2a"/>
<circle cx="72" cy="480" r="8" fill="#fff"/>
<circle cx="72" cy="480" r="7" fill="#ff4040"/>
<circle cx="24" cy="480" r="9" fill="#2a2a2a"/>
<circle cx="24" cy="480" r="8" fill="#fff"/>
<circle cx="24" cy="480" r="7" fill="#ff4040"/>
<rect x="0" y="510" width="816" height="18" fill="#ffc0c0"/>
<rect x="0" y="528" width="816" height="32" fill="#000"/>
<rect x="0" y="530" width="816" height="28" fill="url(#lane)"/>
<rect x="47" y="528" width="2" height="32" fill="#fff" fill-opacity="0.3"/>
<rect x="71" y="528" width="2" height="32" fill="#fff" fill-opacity="0.6"/>
<rect x="95" y="528" width="2" height="32" fill="#fff" fill-opacity="0.3"/>
<rect x="119" y="528" width="2" height="32" fill="#fff" fill-opacity="0.6"/>
<rect x="143" y="528" width="2" height="32" fill="#fff" fill-opacity="0.3"/>
<rect x="167" y="528" width="2" height="32" fill="#fff" fill-opacity="0.6"/>
<rect x="191" y="528" width="2" height="32" fill="#fff" fill-opacity="0.3"/>
<rect x="239" y="528" width="2" height="32" fill="#fff" fill-opacity="0.3"/>
<rect x="263" y="528" width="2" height="32" fill="#fff" fill-opacity="0.6"/>
<rect x="287" y="528" width="2" height="32" fill="#fff" fill-opacity="0.3"/>
<rect x="311" y="528" width="2" height="32" fill="#fff" fill-opacity="0.6"/>
<rect x="335" y="528" width="2" height="32" fill="#fff" fill-opacity="0.3"/>
<rect x="359" y="528" width="2" height="32" fill="#fff" fill-opacity="0.6"/>
<rect x="383" y="528" width="2" height="32" fill="#fff" fill-opacity="0.3"/>
<rect x="431" y="528" width="2" height="32" fill="#fff" fill-opacity="0.3"/>
<rect x="455" y="528" width="2" height="32" fill="#fff" fill-opacity="0.6"/>
<rect x="479" y="528" width="2" height="32" fill="#fff" fill-opacity="0.3"/>
<rect x="503" y="528" width="2" height="32" fill="#fff" fill-opacity="0.6"/>
<rect x="527" y="528" width="2" height="32" fill="#fff" fill-opacity="0.3"/>
<rect x="551" y="528" width="2" height="32" fill="#fff" fill-opacity="0.6"/>
<rect x="575" y="528" width="2" height="32" fill="#fff" fill-opacity="0.3"/>
<rect x="623" y="528" width="2" height="32" fill="#fff" fill-opacity="0.3"/>
<rect x="647" y="528" width="2" height="32" fill="#fff" fill-opacity="0.6"/>
<rect x="671" y="528" width="2" height="32" fill="#fff" fill-opacity="0.3"/>
<rect x="695" y="528" width="2" height="32" fill="#fff" fill-opacity="0.6"/>
<rect x="719" y="528" width="2" height="32" fill="#fff" fill-opacity="0.3"/>
<rect x="743" y="528" width="2" height="32" fill="#fff" fill-opacity="0.6"/>
<rect x="767" y="528" width="2" height="32" fill="#fff" fill-opacity="0.3"/>
<rect x="23" y="510" width="2" height="50" fill="#fff"/>
<rect x="215" y="510" width="2" height="50" fill="#fff"/>
<rect x="407" y="510" width="2" height="50" fill="#fff"/>
<rect x="599" y="510" width="2" height="50" fill="#fff"/>
<rect x="791" y="510" width="2" height="50" fill="#fff"/>
<path d="M25,522h4v1h-4zM28,523h1v1h-1zM25,524h4v1h-4zM25,525h1v1h-1zM25,526h4v1h-4zM31,522h4v1h-4zM31,523h1v1h-1zM31,524h4v1h-4zM31,525h1v1h-1zM34,525h1v1h-1zM31,526h4v1h-4z" fill="#000"/>
<path d="M217,522h4v1h-4zM220,523h1v1h-1zM217,524h4v1h-4zM217,525h1v1h-1zM217,526h4v1h-4zM223,522h4v1h-4zM223,523h1v1h-1zM226,523h1v1h-1zM226,524h1v1h-1zM226,525h1v1h-1zM226,526h1v1h-1z" fill="#000"/>
<path d="M409,522h4v1h-4zM412,523h1v1h-1zM409,524h4v1h-4zM409,525h1v1h-1zM409,526h4v1h-4zM415,522h4v1h-4zM415,523h1v1h-1zM418,523h1v1h-1zM415,524h4v1h-4zM415,525h1v1h-1zM418,525h1v1h-1zM415,526h4v1h-4z" fill="#000"/>
<path d="M601,522h4v1h-4zM604,523h1v1h-1zM601,524h4v1h-4zM601,525h1v1h-1zM601,526h4v1h-4zM607,522h4v1h-4zM607,523h1v1h-1zM610,523h1v1h-1zM607,524h4v1h-4zM610,525h1v1h-1zM608,526h3v1h-3z" fill="#000"/>
<rect x="399" y="535" width="157" height="18" rx="9" fill="#2a2a2a"/>
<rect x="399.9" y="535.9" width="155.2" height="16.2" rx="8.1" fill="#fff"/>
<rect x="400.9" y="536.9" width="153.2" height="14.2" rx="7.1" fill="#ffe83c"/>
<rect x="591" y="535" width="156" height="18" rx="9" fill="#2a2a2a"/>
<rect x="591.9" y="535.9" width="154.2" height="16.2" rx="8.1" fill="#fff"/>
<rect x="592.9" y="536.9" width="152.2" height="14.2" rx="7.1" fill="#ffe83c"/>
<circle cx="360" cy="544" r="9" fill="#2a2a2a"/>
<circle cx="360" cy="544" r="8" fill="#fff"/>
<circle cx="360" cy="544" r="7" fill="#44c4fc"/>
<circle cx="312" cy="544" r="9" fill="#2a2a2a"/>
<circle cx="312" cy="544" r="8" fill="#fff"/>
<circle cx="312" cy="544" r="7" fill="#ff4040"/>
<circle cx="288" cy="544" r="9" fill="#2a2a2a"/>
<circle cx="288" cy="544" r="8" fill="#fff"/>
<circle cx="288" cy="544" r="7" fill="#44c4fc"/>
<circle cx="264" cy="544" r="9" fill="#2a2a2a"/>
<circle cx="264" cy="544" r="8" fill="#fff"/>
<circle cx="264" cy="544" r="7" fill="#44c4fc"/>
<circle cx="240" cy="544" r="9" fill="#2a2a2a"/>
<circle cx="240" cy="544" r="8" fill="#fff"/>
<circle cx="240" cy="544" r="7" fill="#ff4040"/>
<circle cx="216" cy="544" r="9" fill="#2a2a2a"/>
<circle cx="216" cy="544" r="8" fill="#fff"/>
<circle cx="216" cy="544" r="7" fill="#ff4040"/>
<circle cx="192" cy="544" r="9" fill="#2a2a2a"/>
<circle cx="192" cy="544" r="8" fill="#fff"/>
<circle cx="192" cy="544" r="7" fill="#44c4fc"/>
<circle cx="168" cy="544" r="9" fill="#2a2a2a"/>
<circle cx="168" cy="544" r="8" fill="#fff"/>
<circle cx="168" cy="544" r="7" fill="#44c4fc"/>
<circle cx="120" cy="544" r="9" fill="#2a2a2a"/>
<circle cx="120" cy="544" r="8" fill="#fff"/>
<circle cx="120" cy="544" r="7" fill="#ff4040"/>
<circle cx="72" cy="544" r="9" fill="#2a2a2a"/>
<circle cx="72" cy="544" r="8" fill="#fff"/>
<circle cx="72" cy="544" r="7" fill="#ff4040"/>
<circle cx="24" cy="544" r="9" fill="#2a2a2a"/>
<circle cx="24" cy="544" r="8" fill="#fff"/>
<circle cx="24" cy="544" r="7" fill="#ff4040"/>
<rect x="0" y="574" width="816" height="18" fill="#ffc0c0"/>
<rect x="0" y="592" width="816" height="32" fill="#000"/>
<rect x="0" y="594" width="816" height="28" fill="url(#lane)"/>
<rect x="47" y="592" width="2" height="32" fill="#fff" fill-opacity="0.3"/>
<rect x="71" y="592" width="2" height="32" fill="#fff" fill-opacity="0.6"/>
<rect x="95" y="592" width="2" height="32" fill="#fff" fill-opacity="0.3"/>
<rect x="119" y="592" width="2" height="32" fill="#fff" fill-opacity="0.6"/>
<rect x="143" y="592" width="2" height="32" fill="#fff" fill-opacity="0.3"/>
<rect x="167" y="592" width="2" height="32" fill="#fff" fill-opacity="0.6"/>
<rect x="191" y="592" width="2" height="32" fill="#fff" fill-opacity="0.3"/>
<rect x="239" y="592" width="2" height="32" fill="#fff" fill-opacity="0.3"/>
<rect x="263" y="592" width="2" height="32" fill="#fff" fill-opacity="0.6"/>
<rect x="287" y="592" width="2" height="32" fill="#fff" fill-opacity="0.3"/>
<rect x="311" y="592" width="2" height="32" fill="#fff" fill-opacity="0.6"/>
<rect x="335" y="592" width="2" height="32" fill="#fff" fill-opacity="0.3"/>
<rect x="359" y="592" width="2" height="32" fill="#fff" fill-opacity="0.6"/>
<rect x="383" y="592" width="2" height="32" fill="#fff" fill-opacity="0.3"/>
<rect x="431" y="592" width="2" height="32" fill="#fff" fill-opacity="0.3"/>
<rect x="455" y="592" width="2" height="32" fill="#fff" fill-opacity="0.6"/>
<rect x="479" y="592" width="2" height="32" fill="#fff" fill-opacity="0.3"/>
<rect x="503" y="592" width="2" height="32" fill="#fff" fill-opacity="0.6"/>
<rect x="527" y="592" width="2" height="32" fill="#fff" fill-opacity="0.3"/>
<rect x="551" y="592" width="2" height="32" fill="#fff" fill-opacity="0.6"/>
<rect x="575" y="592" width="2" height="32" fill="#fff" fill-opacity="0.3"/>
<rect x="623" y="592" width="2" height="32" fill="#fff" fill-opacity="0.3"/>
<rect x="647" y="592" width="2" height="32" fill="#fff" fill-opacity="0.6"/>
<rect x="671" y="592" width="2" height="32" fill="#fff" fill-opacity="0.3"/>
<rect x="695" y="592" width="2" height="32" fill="#fff" fill-opacity="0.6"/>
<rect x="719" y="592" width="2" height="32" fill="#fff" fill-opacity="0.3"/>
<rect x="743" y="592" width="2" height="32" fill="#fff" fill-opacity="0.6"/>
<rect x="767" y="592" width="2" height="32" fill="#fff" fill-opacity="0.3"/>
<rect x="23" y="574" width="2" height="50" fill="#fff"/>
<rect x="215" y="574" width="2" height="50" fill="#fff"/>
<rect x="407" y="574" width="2" height="50" fill="#fff"/>
<rect x="599" y="574" width="2" height="50" fill="#fff"/>
<rect x="791" y="574" width="2" height="50" fill="#fff"/>
<path d="M25,586h4v1h-4zM28,587h1v1h-1zM26,588h3v1h-3zM28,589h1v1h-1zM25,590h4v1h-4zM31,586h4v1h-4zM31,587h1v1h-1zM34,587h1v1h-1zM31,588h1v1h-1zM34,588h1v1h-1zM31,589h1v1h-1zM34,589h1v1h-1zM31,590h4v1h-4z" fill="#000"/>
<path d="M217,586h4v1h-4zM220,587h1v1h-1zM218,588h3v1h-3zM220,589h1v1h-1zM217,590h4v1h-4zM225,586h1v1h-1zM224,587h2v1h-2zM225,588h1v1h-1zM225,589h1v1h-1zM224,590h3v1h-3z" fill="#000"/>
<path d="M409,586h4v1h-4zM412,587h1v1h-1zM410,588h3v1h-3zM412,589h1v1h-1zM409,590h4v1h-4zM415,586h4v1h-4zM418,587h1v1h-1zM415,588h4v1h-4zM415,589h1v1h-1zM415,590h4v1h-4z" fill="#000"/>
<path d="M601,586h4v1h-4zM604,587h1v1h-1zM602,588h3v1h-3zM604,589h1v1h-1zM601,590h4v1h-4zM607,586h4v1h-4zM610,587h1v1h-1zM608,588h3v1h-3zM610,589h1v1h-1zM607,590h4v1h-4z" fill="#000"/>
<rect x="564" y="596" width="187" height="24" rx="12" fill="#2a2a2a"/>
<rect x="564.9" y="596.9" width="185.2" height="22.2" rx="11.1" fill="#fff"/>
<rect x="566.8" y="598.8" width="181.4" height="18.4" rx="9.2" fill="#ffe83c"/>
<circle cx="504" cy="608" r="12" fill="#2a2a2a"/>
<circle cx="504" cy="608" r="11" fill="#fff"/>
<circle cx="504" cy="608" r="9" fill="#44c4fc"/>
<circle cx="480" cy="608" r="12" fill="#2a2a2a"/>
<circle cx="480" cy="608" r="11" fill="#fff"/>
<circle cx="480" cy="608" r="9" fill="#ff4040"/>
<circle cx="456" cy="608" r="12" fill="#2a2a2a"/>
<circle cx="456" cy="608" r="11" fill="#fff"/>
<circle cx="456" cy="608" r="9" fill="#ff4040"/>
<circle cx="384" cy="608" r="9" fill="#2a2a2a"/>
<circle cx="384" cy="608" r="8" fill="#fff"/>
<circle cx="384" cy="608" r="7" fill="#ff4040"/>
<circle cx="360" cy="608" r="9" fill="#2a2a2a"/>
<circle cx="360" cy="608" r="8" fill="#fff"/>
<circle cx="360" cy="608" r="7" fill="#ff4040"/>
<circle cx="312" cy="608" r="9" fill="#2a2a2a"/>
<circle cx="312" cy="608" r="8" fill="#fff"/>
<circle cx="312" cy="608" r="7" fill="#44c4fc"/>
<circle cx="288" cy="608" r="9" fill="#2a2a2a"/>
<circle cx="288" cy="608" r="8" fill="#fff"/>
<circle cx="288" cy="608" r="7" fill="#ff4040"/>
<circle cx="264" cy="608" r="9" fill="#2a2a2a"/>
<circle cx="264" cy="608" r="8" fill="#fff"/>
<circle cx="264" cy="608" r="7" fill="#ff4040"/>
<circle cx="216" cy="608" r="9" fill="#2a2a2a"/>
<circle cx="216" cy="608" r="8" fill="#fff"/>
<circle cx="216" cy="608" r="7" fill="#44c4fc"/>
<circle cx="192" cy="608" r="9" fill="#2a2a2a"/>
<circle cx="192" cy="608" r="8" fill="#fff"/>
<circle cx="192" cy="608" r="7" fill="#ff4040"/>
<circle cx="168" cy="608" r="9" fill="#2a2a2a"/>
<circle cx="168" cy="608" r="8" fill="#fff"/>
<circle cx="168" cy="608" r="7" fill="#ff4040"/>
<circle cx="120" cy="608" r="9" fill="#2a2a2a"/>
<circle cx="120" cy="608" r="8" fill="#fff"/>
<circle cx="120" cy="608" r="7" fill="#44c4fc"/>
<circle cx="96" cy="608" r="9" fill="#2a2a2a"/>
<circle cx="96" cy="608" r="8" fill="#fff"/>
<circle cx="96" cy="608" r="7" fill="#ff4040"/>
<circle cx="72" cy="608" r="9" fill="#2a2a2a"/>
<circle cx="72" cy="608" r="8" fill="#fff"/>
<circle cx="72" cy="608" r="7" fill="#ff4040"/>
<circle cx="48" cy="608" r="9" fill="#2a2a2a"/>
<circle cx="48" cy="608" r="8" fill="#fff"/>
<circle cx="48" cy="608" r="7" fill="#ff4040"/>
<circle cx="24" cy="608" r="9" fill="#2a2a2a"/>
<circle cx="24" cy="608" r="8" fill="#fff"/>
<circle cx="24" cy="608" r="7" fill="#ff4040"/>
<rect x="0" y="638" width="816" height="18" fill="#ffc0c0"/>
<rect x="0" y="656" width="816" height="32" fill="#000"/>
<rect x="0" y="658" width="816" height="28" fill="url(#lane)"/>
<rect x="47" y="656" width="2" height="32" fill="#fff" fill-opacity="0.3"/>
<rect x="71" y="656" width="2" height="32" fill="#fff" fill-opacity="0.6"/>
<rect x="95" y="656" width="2" height="32" fill="#fff" fill-opacity="0.3"/>
<rect x="119" y="656" width="2" height="32" fill="#fff" fill-opacity="0.6"/>
<rect x="143" y="656" width="2" height="32" fill="#fff" fill-opacity="0.3"/>
<rect x="167" y="656" width="2" height="32" fill="#fff" fill-opacity="0.6"/>
<rect x="191" y="656" width="2" height="32" fill="#fff" fill-opacity="0.3"/>
<rect x="239" y="656" width="2" height="32" fill="#fff" fill-opacity="0.3"/>
<rect x="263" y="656" width="2" height="32" fill="#fff" fill-opacity="0.6"/>
<rect x="287" y="656" width="2" height="32" fill="#fff" fill-opacity="0.3"/>
<rect x="311" y="656" width="2" height="32" fill="#fff" fill-opacity="0.6"/>
<rect x="335" y="656" width="2" height="32" fill="#fff" fill-opacity="0.3"/>
<rect x="359" y="656" width="2" height="32" fill="#fff" fill-opacity="0.6"/>
<rect x="383" y="656" width="2" height="32" fill="#fff" fill-opacity="0.3"/>
<rect x="431" y="656" width="2" height="32" fill="#fff" fill-opacity="0.3"/>
<rect x="455" y="656" width="2" height="32" fill="#fff" fill-opacity="0.6"/>
<rect x="479" y="656" width="2" height="32" fill="#fff" fill-opacity="0.3"/>
<rect x="503" y="656" width="2" height="32" fill="#fff" fill-opacity="0.6"/>
<rect x="527" y="656" width="2" height="32" fill="#fff" fill-opacity="0.3"/>
<rect x="551" y="656" width="2" height="32" fill="#fff" fill-opacity="0.6"/>
<rect x="575" y="656" width="2" height="32" fill="#fff" fill-opacity="0.3"/>
<rect x="623" y="656" width="2" height="32" fill="#fff" fill-opacity="0.3"/>
<rect x="647" y="656" width="2" height="32" fill="#fff" fill-opacity="0.6"/>
<rect x="671" y="656" width="2" height="32" fill="#fff" fill-opacity="0.3"/>
<rect x="695" y="656" width="2" height="32" fill="#fff" fill-opacity="0.6"/>
<rect x="719" y="656" width="2" height="32" fill="#fff" fill-opacity="0.3"/>
<rect x="743" y="656" width="2" height="32" fill="#fff" fill-opacity="0.6"/>
<rect x="767" y="656" width="2" height="32" fill="#fff" fill-opacity="0.3"/>
<rect x="23" y="638" width="2" height="50" fill="#fff"/>
<rect x="215" y="638" width="2" height="50" fill="#fff"/>
<rect x="407" y="638" width="2" height="50" fill="#fff"/>
<rect x="599" y="638" width="2" height="50" fill="#fff"/>
<rect x="791" y="638" width="2" height="50" fill="#fff"/>
<path d="M25,650h4v1h-4zM28,651h1v1h-1zM26,652h3v1h-3zM28,653h1v1h-1zM25,654h4v1h-4zM33,650h1v1h-1zM31,651h1v1h-1zM33,651h1v1h-1zM31,652h1v1h-1zM33,652h1v1h-1zM31,653h4v1h-4zM33,654h1v1h-1z" fill="#000"/>
<path d="M217,650h4v1h-4zM220,651h1v1h-1zM218,652h3v1h-3zM220,653h1v1h-1zM217,654h4v1h-4zM223,650h4v1h-4zM223,651h1v1h-1zM223,652h4v1h-4zM226,653h1v1h-1zM223,654h4v1h-4z" fill="#000"/>
<path d="M409,650h4v1h-4zM412,651h1v1h-1zM410,652h3v1h-3zM412,653h1v1h-1zM409,654h4v1h-4zM415,650h4v1h-4zM415,651h1v1h-1zM415,652h4v1h-4zM415,653h1v1h-1zM418,653h1v1h-1zM415,654h4v1h-4z" fill="#000"/>
<path d="M601,650h4v1h-4zM604,651h1v1h-1zM602,652h3v1h-3zM604,653h1v1h-1zM601,654h4v1h-4zM607,650h4v1h-4zM607,651h1v1h-1zM610,651h1v1h-1zM610,652h1v1h-1zM610,653h1v1h-1zM610,654h1v1h-1z" fill="#000"/>
<rect x="564" y="660" width="211" height="24" rx="12" fill="#2a2a2a"/>
<rect x="564.9" y="660.9" width="209.2" height="22.2" rx="11.1" fill="#fff"/>
<rect x="566.8" y="662.8" width="205.4" height="18.4" rx="9.2" fill="#ffe83c"/>
<circle cx="504" cy="672" r="12" fill="#2a2a2a"/>
<circle cx="504" cy="672" r="11" fill="#fff"/>
<circle cx="504" cy="672" r="9" fill="#44c4fc"/>
<circle cx="480" cy="672" r="12" fill="#2a2a2a"/>
<circle cx="480" cy="672" r="11" fill="#fff"/>
<circle cx="480" cy="672" r="9" fill="#ff4040"/>
<circle cx="456" cy="672" r="12" fill="#2a2a2a"/>
<circle cx="456" cy="672" r="11" fill="#fff"/>
<circle cx="456" cy="672" r="9" fill="#ff4040"/>
<circle cx="384" cy="672" r="9" fill="#2a2a2a"/>
<circle cx="384" cy="672" r="8" fill="#fff"/>
<circle cx="384" cy="672" r="7" fill="#ff4040"/>
<circle cx="360" cy="672" r="9" fill="#2a2a2a"/>
<circle cx="360" cy="672" r="8" fill="#fff"/>
<circle cx="360" cy="672" r="7" fill="#ff4040"/>
<circle cx="312" cy="672" r="9" fill="#2a2a2a"/>
<circle cx="312" cy="672" r="8" fill="#fff"/>
<circle cx="312" cy="672" r="7" fill="#44c4fc"/>
<circle cx="288" cy="672" r="9" fill="#2a2a2a"/>
<circle cx="288" cy="672" r="8" fill="#fff"/>
<circle cx="288" cy="672" r="7" fill="#ff4040"/>
<circle cx="264" cy="672" r="9" fill="#2a2a2a"/>
<circle cx="264" cy="672" r="8" fill="#fff"/>
<circle cx="264" cy="672" r="7" fill="#ff4040"/>
<circle cx="216" cy="672" r="9" fill="#2a2a2a"/>
<circle cx="216" cy="672" r="8" fill="#fff"/>
<circle cx="216" cy="672" r="7" fill="#44c4fc"/>
<circle cx="192" cy="672" r="9" fill="#2a2a2a"/>
<circle cx="192" cy="672" r="8" fill="#fff"/>
<circle cx="192" cy="672" r="7" fill="#ff4040"/>
<circle cx="168" cy="672" r="9" fill="#2a2a2a"/>
<circle cx="168" cy="672" r="8" fill="#fff"/>
<circle cx="168" cy="672" r="7" fill="#ff4040"/>
<circle cx="120" cy="672" r="9" fill="#2a2a2a"/>
<circle cx="120" cy="672" r="8" fill="#fff"/>
<circle cx="120" cy="672" r="7" fill="#44c4fc"/>
<circle cx="96" cy="672" r="9" fill="#2a2a2a"/>
<circle cx="96" cy="672" r="8" fill="#fff"/>
<circle cx="96" cy="672" r="7" fill="#ff4040"/>
<circle cx="72" cy="672" r="9" fill="#2a2a2a"/>
<circle cx="72" cy="672" r="8" fill="#fff"/>
<circle cx="72" cy="672" r="7" fill="#ff4040"/>
<circle cx="48" cy="672" r="9" fill="#2a2a2a"/>
<circle cx="48" cy="672" r="8" fill="#fff"/>
<circle cx="48" cy="672" r="7" fill="#ff4040"/>
<circle cx="24" cy="672" r="9" fill="#2a2a2a"/>
<circle cx="24" cy="672" r="8" fill="#fff"/>
<circle cx="24" cy="672" r="7" fill="#ff4040"/>
<rect x="0" y="720" width="432" height="32" fill="#000"/>
<rect x="0" y="722" width="432" height="28" fill="url(#lane)"/>
<rect x="47" y="720" width="2" height="32" fill="#fff" fill-opacity="0.3"/>
<rect x="71" y="720" width="2" height="32" fill="#fff" fill-opacity="0.6"/>
<rect x="95" y="720" width="2" height="32" fill="#fff" fill-opacity="0.3"/>
<rect x="119" y="720" width="2" height="32" fill="#fff" fill-opacity="0.6"/>
<rect x="143" y="720" width="2" height="32" fill="#fff" fill-opacity="0.3"/>
<rect x="167" y="720" width="2" height="32" fill="#fff" fill-opacity="0.6"/>
<rect x="191" y="720" width="2" height="32" fill="#fff" fill-opacity="0.3"/>
<rect x="239" y="720" width="2" height="32" fill="#fff" fill-opacity="0.3"/>
<rect x="263" y="720" width="2" height="32" fill="#fff" fill-opacity="0.6"/>
<rect x="287" y="720" width="2" height="32" fill="#fff" fill-opacity="0.3"/>
<rect x="311" y="720" width="2" height="32" fill="#fff" fill-opacity="0.6"/>
<rect x="335" y="720" width="2" height="32" fill="#fff" fill-opacity="0.3"/>
<rect x="359" y="720" width="2" height="32" fill="#fff" fill-opacity="0.6"/>
<rect x="383" y="720" width="2" height="32" fill="#fff" fill-opacity="0.3"/>
<rect x="23" y="702" width="2" height="50" fill="#fff"/>
<rect x="215" y="702" width="2" height="50" fill="#fff"/>
<rect x="407" y="702" width="2" height="50" fill="#fff"/>
<path d="M25,714h4v1h-4zM28,715h1v1h-1zM26,716h3v1h-3zM28,717h1v1h-1zM25,718h4v1h-4zM31,714h4v1h-4zM31,715h1v1h-1zM34,715h1v1h-1zM31,716h4v1h-4zM31,717h1v1h-1zM34,717h1v1h-1zM31,718h4v1h-4z" fill="#000"/>
<path d="M217,714h4v1h-4zM220,715h1v1h-1zM218,716h3v1h-3zM220,717h1v1h-1zM217,718h4v1h-4zM223,714h4v1h-4zM223,715h1v1h-1zM226,715h1v1h-1zM223,716h4v1h-4zM226,717h1v1h-1zM224,718h3v1h-3z" fill="#000"/>
<rect x="0" y="784" width="816" height="32" fill="#000"/>
<rect x="0" y="786" width="816" height="28" fill="url(#lane)"/>
<rect x="47" y="784" width="2" height="32" fill="#fff" fill-opacity="0.3"/>
<rect x="71" y="784" width="2" height="32" fill="#fff" fill-opacity="0.6"/>
<rect x="95" y="784" width="2" height="32" fill="#fff" fill-opacity="0.3"/>
<rect x="119" y="784" width="2" height="32" fill="#fff" fill-opacity="0.6"/>
<rect x="143" y="784" width="2" height="32" fill="#fff" fill-opacity="0.3"/>
<rect x="167" y="784" width="2" height="32" fill="#fff" fill-opacity="0.6"/>
<rect x="191" y="784" width="2" height="32" fill="#fff" fill-opacity="0.3"/>
<rect x="239" y="784" width="2" height="32" fill="#fff" fill-opacity="0.3"/>
<rect x="263" y="784" width="2" height="32" fill="#fff" fill-opacity="0.6"/>
<rect x="287" y="784" width="2" height="32" fill="#fff" fill-opacity="0.3"/>
<rect x="311" y="784" width="2" height="32" fill="#fff" fill-opacity="0.6"/>
<rect x="335" y="784" width="2" height="32" fill="#fff" fill-opacity="0.3"/>
<rect x="359" y="784" width="2" height="32" fill="#fff" fill-opacity="0.6"/>
<rect x="383" y="784" width="2" height="32" fill="#fff" fill-opacity="0.3"/>
<rect x="431" y="784" width="2" height="32" fill="#fff" fill-opacity="0.3"/>
<rect x="455" y="784" width="2" height="32" fill="#fff" fill-opacity="0.6"/>
<rect x="479" y="784" width="2" height="32" fill="#fff" fill-opacity="0.3"/>
<rect x="503" y="784" width="2" height="32" fill="#fff" fill-opacity="0.6"/>
<rect x="527" y="784" width="2" height="32" fill="#fff" fill-opacity="0.3"/>
<rect x="551" y="784" width="2" height="32" fill="#fff" fill-opacity="0.6"/>
<rect x="575" y="784" width="2" height="32" fill="#fff" fill-opacity="0.3"/>
<rect x="623" y="784" width="2" height="32" fill="#fff" fill-opacity="0.3"/>
<rect x="647" y="784" width="2" height="32" fill="#fff" fill-opacity="0.6"/>
<rect x="671" y="784" width="2" height="32" fill="#fff" fill-opacity="0.3"/>
<rect x="695" y="784" width="2" height="32" fill="#fff" fill-opacity="0.6"/>
<rect x="719" y="784" width="2" height="32" fill="#fff" fill-opacity="0.3"/>
<rect x="743" y="784" width="2" height="32" fill="#fff" fill-opacity="0.6"/>
<rect x="767" y="784" width="2" height="32" fill="#fff" fill-opacity="0.3"/>
<rect x="23" y="766" width="2" height="50" fill="#fff"/>
<rect x="215" y="766" width="2" height="50" fill="#fff"/>
<rect x="407" y="766" width="2" height="50" fill="#fff"/>
<rect x="599" y="766" width="2" height="50" fill="#fff"/>
<rect x="791" y="766" width="2" height="50" fill="#fff"/>
<path d="M27,778h1v1h-1zM25,779h1v1h-1zM27,779h1v1h-1zM25,780h1v1h-1zM27,780h1v1h-1zM25,781h4v1h-4zM27,782h1v1h-1zM31,778h4v1h-4zM31,779h1v1h-1zM34,779h1v1h-1zM31,780h1v1h-1zM34,780h1v1h-1zM31,781h1v1h-1zM34,781h1v1h-1zM31,782h4v1h-4z" fill="#000"/>
<path d="M219,778h1v1h-1zM217,779h1v1h-1zM219,779h1v1h-1zM217,780h1v1h-1zM219,780h1v1h-1zM217,781h4v1h-4zM219,782h1v1h-1zM225,778h1v1h-1zM224,779h2v1h-2zM225,780h1v1h-1zM225,781h1v1h-1zM224,782h3v1h-3z" fill="#000"/>
<path d="M411,778h1v1h-1zM409,779h1v1h-1zM411,779h1v1h-1zM409,780h1v1h-1zM411,780h1v1h-1zM409,781h4v1h-4zM411,782h1v1h-1zM415,778h4v1h-4zM418,779h1v1h-1zM415,780h4v1h-4zM415,781h1v1h-1zM415,782h4v1h-4z" fill="#000"/>
<path d="M603,778h1v1h-1zM601,779h1v1h-1zM603,779h1v1h-1zM601,780h1v1h-1zM603,780h1v1h-1zM601,781h4v1h-4zM603,782h1v1h-1zM607,778h4v1h-4zM610,779h1v1h-1zM608,780h3v1h-3zM610,781h1v1h-1zM607,782h4v1h-4z" fill="#000"/>
<g mask="url(#bm11_0)">
<rect x="99.8" y="791.5" width="75.7" height="17.0" rx="8.5" fill="#2a2a2a"/>
<rect x="100.7" y="792.4" width="73.9" height="15.2" rx="7.6" fill="#fff"/>
<rect x="101.6" y="793.3" width="72.1" height="13.399999999999999" rx="6.699999999999999" fill="#ffb83c"/>
</g>
<path d="M109.1,796 L110.1,796 C110.8,797.5 112.3,797.7 115.3,797 L115.3,803 C112.3,802.3 110.8,802.5 110.1,804 L109.1,804 Z" fill="#ff9c00" stroke="#6a4800" stroke-width="0.7"/>
<circle cx="122.3" cy="800" r="8.4" fill="url(#bhead)" stroke="#6a4800" stroke-width="0.8"/>
<path d="M118,797h4v1h-4zM121,798h1v1h-1zM118,799h4v1h-4zM118,800h1v1h-1zM118,801h4v1h-4z" fill="#000"/>
<circle cx="696" cy="800" r="12" fill="#2a2a2a"/>
<circle cx="696" cy="800" r="11" fill="#fff"/>
<circle cx="696" cy="800" r="9" fill="#44c4fc"/>
<circle cx="648" cy="800" r="12" fill="#2a2a2a"/>
<circle cx="648" cy="800" r="11" fill="#fff"/>
<circle cx="648" cy="800" r="9" fill="#ff4040"/>
<circle cx="600" cy="800" r="12" fill="#2a2a2a"/>
<circle cx="600" cy="800" r="11" fill="#fff"/>
<circle cx="600" cy="800" r="9" fill="#ff4040"/>
<circle cx="504" cy="800" r="9" fill="#2a2a2a"/>
<circle cx="504" cy="800" r="8" fill="#fff"/>
<circle cx="504" cy="800" r="7" fill="#ff4040"/>
<circle cx="456" cy="800" r="9" fill="#2a2a2a"/>
<circle cx="456" cy="800" r="8" fill="#fff"/>
<circle cx="456" cy="800" r="7" fill="#44c4fc"/>
<circle cx="432" cy="800" r="9" fill="#2a2a2a"/>
<circle cx="432" cy="800" r="8" fill="#fff"/>
<circle cx="432" cy="800" r="7" fill="#ff4040"/>
<circle cx="408" cy="800" r="9" fill="#2a2a2a"/>
<circle cx="408" cy="800" r="8" fill="#fff"/>
<circle cx="408" cy="800" r="7" fill="#ff4040"/>
<circle cx="312" cy="800" r="9" fill="#2a2a2a"/>
<circle cx="312" cy="800" r="8" fill="#fff"/>
<circle cx="312" cy="800" r="7" fill="#44c4fc"/>
<circle cx="288" cy="800" r="9" fill="#2a2a2a"/>
<circle cx="288" cy="800" r="8" fill="#fff"/>
<circle cx="288" cy="800" r="7" fill="#ff4040"/>
<circle cx="264" cy="800" r="9" fill="#2a2a2a"/>
<circle cx="264" cy="800" r="8" fill="#fff"/>
<circle cx="264" cy="800" r="7" fill="#44c4fc"/>
<circle cx="240" cy="800" r="9" fill="#2a2a2a"/>
<circle cx="240" cy="800" r="8" fill="#fff"/>
<circle cx="240" cy="800" r="7" fill="#ff4040"/>
<circle cx="216" cy="800" r="9" fill="#2a2a2a"/>
<circle cx="216" cy="800" r="8" fill="#fff"/>
<circle cx="216" cy="800" r="7" fill="#ff4040"/>
<circle cx="24" cy="800" r="9" fill="#2a2a2a"/>
<circle cx="24" cy="800" r="8" fill="#fff"/>
<circle cx="24" cy="800" r="7" fill="#ff4040"/>
<rect x="0" y="848" width="816" height="32" fill="#000"/>
<rect x="0" y="850" width="816" height="28" fill="url(#lane)"/>
<rect x="47" y="848" width="2" height="32" fill="#fff" fill-opacity="0.3"/>
<rect x="71" y="848" width="2" height="32" fill="#fff" fill-opacity="0.6"/>
<rect x="95" y="848" width="2" height="32" fill="#fff" fill-opacity="0.3"/>
<rect x="119" y="848" width="2" height="32" fill="#fff" fill-opacity="0.6"/>
<rect x="143" y="848" width="2" height="32" fill="#fff" fill-opacity="0.3"/>
<rect x="167" y="848" width="2" height="32" fill="#fff" fill-opacity="0.6"/>
<rect x="191" y="848" width="2" height="32" fill="#fff" fill-opacity="0.3"/>
<rect x="239" y="848" width="2" height="32" fill="#fff" fill-opacity="0.3"/>
<rect x="263" y="848" width="2" height="32" fill="#fff" fill-opacity="0.6"/>
<rect x="287" y="848" width="2" height="32" fill="#fff" fill-opacity="0.3"/>
<rect x="311" y="848" width="2" height="32" fill="#fff" fill-opacity="0.6"/>
<rect x="335" y="848" width="2" height="32" fill="#fff" fill-opacity="0.3"/>
<rect x="359" y="848" width="2" height="32" fill="#fff" fill-opacity="0.6"/>
<rect x="383" y="848" width="2" height="32" fill="#fff" fill-opacity="0.3"/>
<rect x="431" y="848" width="2" height="32" fill="#fff" fill-opacity="0.3"/>
<rect x="455" y="848" width="2" height="32" fill="#fff" fill-opacity="0.6"/>
<rect x="479" y="848" width="2" height="32" fill="#fff" fill-opacity="0.3"/>
<rect x="503" y="848" width="2" height="32" fill="#fff" fill-opacity="0.6"/>
<rect x="527" y="848" width="2" height="32" fill="#fff" fill-opacity="0.3"/>
<rect x="551" y="848" width="2" height="32" fill="#fff" fill-opacity="0.6"/>
<rect x="575" y="848" width="2" height="32" fill="#fff" fill-opacity="0.3"/>
<rect x="623" y="848" width="2" height="32" fill="#fff" fill-opacity="0.3"/>
<rect x="647" y="848" width="2" height="32" fill="#fff" fill-opacity="0.6"/>
<rect x="671" y="848" width="2" height="32" fill="#fff" fill-opacity="0.3"/>
<rect x="695" y="848" width="2" height="32" fill="#fff" fill-opacity="0.6"/>
<rect x="719" y="848" width="2" height="32" fill="#fff" fill-opacity="0.3"/>
<rect x="743" y="848" width="2" height="32" fill="#fff" fill-opacity="0.6"/>
<rect x="767" y="848" width="2" height="32" fill="#fff" fill-opacity="0.3"/>
<rect x="23" y="830" width="2" height="50" fill="#fff"/>
<rect x="215" y="830" width="2" height="50" fill="#fff"/>
<rect x="407" y="830" width="2" height="50" fill="#fff"/>
<rect x="599" y="830" width="2" height="50" fill="#fff"/>
<rect x="791" y="830" width="2" height="50" fill="#fff"/>
<path d="M27,842h1v1h-1zM25,843h1v1h-1zM27,843h1v1h-1zM25,844h1v1h-1zM27,844h1v1h-1zM25,845h4v1h-4zM27,846h1v1h-1zM33,842h1v1h-1zM31,843h1v1h-1zM33,843h1v1h-1zM31,844h1v1h-1zM33,844h1v1h-1zM31,845h4v1h-4zM33,846h1v1h-1z" fill="#000"/>
<path d="M219,842h1v1h-1zM217,843h1v1h-1zM219,843h1v1h-1zM217,844h1v1h-1zM219,844h1v1h-1zM217,845h4v1h-4zM219,846h1v1h-1zM223,842h4v1h-4zM223,843h1v1h-1zM223,844h4v1h-4zM226,845h1v1h-1zM223,846h4v1h-4z" fill="#000"/>
<path d="M411,842h1v1h-1zM409,843h1v1h-1zM411,843h1v1h-1zM409,844h1v1h-1zM411,844h1v1h-1zM409,845h4v1h-4zM411,846h1v1h-1zM415,842h4v1h-4zM415,843h1v1h-1zM415,844h4v1h-4zM415,845h1v1h-1zM418,845h1v1h-1zM415,846h4v1h-4z" fill="#000"/>
<path d="M603,842h1v1h-1zM601,843h1v1h-1zM603,843h1v1h-1zM601,844h1v1h-1zM603,844h1v1h-1zM601,845h4v1h-4zM603,846h1v1h-1zM607,842h4v1h-4zM607,843h1v1h-1zM610,843h1v1h-1zM610,844h1v1h-1zM610,845h1v1h-1zM610,846h1v1h-1z" fill="#000"/>
<g mask="url(#bm12_0)">
<rect x="99.8" y="855.5" width="75.7" height="17.0" rx="8.5" fill="#2a2a2a"/>
<rect x="100.7" y="856.4" width="73.9" height="15.2" rx="7.6" fill="#fff"/>
<rect x="101.6" y="857.3" width="72.1" height="13.399999999999999" rx="6.699999999999999" fill="#ffb83c"/>
</g>
<path d="M109.1,860 L110.1,860 C110.8,861.5 112.3,861.7 115.3,861 L115.3,867 C112.3,866.3 110.8,866.5 110.1,868 L109.1,868 Z" fill="#ff9c00" stroke="#6a4800" stroke-width="0.7"/>
<circle cx="122.3" cy="864" r="8.4" fill="url(#bhead)" stroke="#6a4800" stroke-width="0.8"/>
<path d="M118,861h4v1h-4zM121,862h1v1h-1zM118,863h4v1h-4zM118,864h1v1h-1zM118,865h4v1h-4z" fill="#000"/>
<circle cx="696" cy="864" r="12" fill="#2a2a2a"/>
<circle cx="696" cy="864" r="11" fill="#fff"/>
<circle cx="696" cy="864" r="9" fill="#44c4fc"/>
<circle cx="648" cy="864" r="12" fill="#2a2a2a"/>
<circle cx="648" cy="864" r="11" fill="#fff"/>
<circle cx="648" cy="864" r="9" fill="#ff4040"/>
<circle cx="600" cy="864" r="12" fill="#2a2a2a"/>
<circle cx="600" cy="864" r="11" fill="#fff"/>
<circle cx="600" cy="864" r="9" fill="#ff4040"/>
<circle cx="504" cy="864" r="9" fill="#2a2a2a"/>
<circle cx="504" cy="864" r="8" fill="#fff"/>
<circle cx="504" cy="864" r="7" fill="#ff4040"/>
<circle cx="456" cy="864" r="9" fill="#2a2a2a"/>
<circle cx="456" cy="864" r="8" fill="#fff"/>
<circle cx="456" cy="864" r="7" fill="#44c4fc"/>
<circle cx="432" cy="864" r="9" fill="#2a2a2a"/>
<circle cx="432" cy="864" r="8" fill="#fff"/>
<circle cx="432" cy="864" r="7" fill="#ff4040"/>
<circle cx="408" cy="864" r="9" fill="#2a2a2a"/>
<circle cx="408" cy="864" r="8" fill="#fff"/>
<circle cx="408" cy="864" r="7" fill="#ff4040"/>
<circle cx="312" cy="864" r="9" fill="#2a2a2a"/>
<circle cx="312" cy="864" r="8" fill="#fff"/>
<circle cx="312" cy="864" r="7" fill="#44c4fc"/>
<circle cx="288" cy="864" r="9" fill="#2a2a2a"/>
<circle cx="288" cy="864" r="8" fill="#fff"/>
<circle cx="288" cy="864" r="7" fill="#ff4040"/>
<circle cx="264" cy="864" r="9" fill="#2a2a2a"/>
<circle cx="264" cy="864" r="8" fill="#fff"/>
<circle cx="264" cy="864" r="7" fill="#44c4fc"/>
<circle cx="240" cy="864" r="9" fill="#2a2a2a"/>
<circle cx="240" cy="864" r="8" fill="#fff"/>
<circle cx="240" cy="864" r="7" fill="#ff4040"/>
<circle cx="216" cy="864" r="9" fill="#2a2a2a"/>
<circle cx="216" cy="864" r="8" fill="#fff"/>
<circle cx="216" cy="864" r="7" fill="#ff4040"/>
<circle cx="24" cy="864" r="9" fill="#2a2a2a"/>
<circle cx="24" cy="864" r="8" fill="#fff"/>
<circle cx="24" cy="864" r="7" fill="#ff4040"/>
<rect x="0" y="912" width="816" height="32" fill="#000"/>
<rect x="0" y="914" width="816" height="28" fill="url(#lane)"/>
<rect x="47" y="912" width="2" height="32" fill="#fff" fill-opacity="0.3"/>
<rect x="71" y="912" width="2" height="32" fill="#fff" fill-opacity="0.6"/>
<rect x="95" y="912" width="2" height="32" fill="#fff" fill-opacity="0.3"/>
<rect x="119" y="912" width="2" height="32" fill="#fff" fill-opacity="0.6"/>
<rect x="143" y="912" width="2" height="32" fill="#fff" fill-opacity="0.3"/>
<rect x="167" y="912" width="2" height="32" fill="#fff" fill-opacity="0.6"/>
<rect x="191" y="912" width="2" height="32" fill="#fff" fill-opacity="0.3"/>
<rect x="239" y="912" width="2" height="32" fill="#fff" fill-opacity="0.3"/>
<rect x="263" y="912" width="2" height="32" fill="#fff" fill-opacity="0.6"/>
<rect x="287" y="912" width="2" height="32" fill="#fff" fill-opacity="0.3"/>
<rect x="311" y="912" width="2" height="32" fill="#fff" fill-opacity="0.6"/>
<rect x="335" y="912" width="2" height="32" fill="#fff" fill-opacity="0.3"/>
<rect x="359" y="912" width="2" height="32" fill="#fff" fill-opacity="0.6"/>
<rect x="383" y="912" width="2" height="32" fill="#fff" fill-opacity="0.3"/>
<rect x="431" y="912" width="2" height="32" fill="#fff" fill-opacity="0.3"/>
<rect x="455" y="912" width="2" height="32" fill="#fff" fill-opacity="0.6"/>
<rect x="479" y="912" width="2" height="32" fill="#fff" fill-opacity="0.3"/>
<rect x="503" y="912" width="2" height="32" fill="#fff" fill-opacity="0.6"/>
<rect x="527" y="912" width="2" height="32" fill="#fff" fill-opacity="0.3"/>
<rect x="551" y="912" width="2" height="32" fill="#fff" fill-opacity="0.6"/>
<rect x="575" y="912" width="2" height="32" fill="#fff" fill-opacity="0.3"/>
<rect x="623" y="912" width="2" height="32" fill="#fff" fill-opacity="0.3"/>
<rect x="647" y="912" width="2" height="32" fill="#fff" fill-opacity="0.6"/>
<rect x="671" y="912" width="2" height="32" fill="#fff" fill-opacity="0.3"/>
<rect x="695" y="912" width="2" height="32" fill="#fff" fill-opacity="0.6"/>
<rect x="719" y="912" width="2" height="32" fill="#fff" fill-opacity="0.3"/>
<rect x="743" y="912" width="2" height="32" fill="#fff" fill-opacity="0.6"/>
<rect x="767" y="912" width="2" height="32" fill="#fff" fill-opacity="0.3"/>
<rect x="23" y="894" width="2" height="50" fill="#fff"/>
<rect x="215" y="894" width="2" height="50" fill="#fff"/>
<rect x="407" y="894" width="2" height="50" fill="#fff"/>
<rect x="599" y="894" width="2" height="50" fill="#fff"/>
<rect x="791" y="894" width="2" height="50" fill="#fff"/>
<path d="M27,906h1v1h-1zM25,907h1v1h-1zM27,907h1v1h-1zM25,908h1v1h-1zM27,908h1v1h-1zM25,909h4v1h-4zM27,910h1v1h-1zM31,906h4v1h-4zM31,907h1v1h-1zM34,907h1v1h-1zM31,908h4v1h-4zM31,909h1v1h-1zM34,909h1v1h-1zM31,910h4v1h-4z" fill="#000"/>
<path d="M219,906h1v1h-1zM217,907h1v1h-1zM219,907h1v1h-1zM217,908h1v1h-1zM219,908h1v1h-1zM217,909h4v1h-4zM219,910h1v1h-1zM223,906h4v1h-4zM223,907h1v1h-1zM226,907h1v1h-1zM223,908h4v1h-4zM226,909h1v1h-1zM224,910h3v1h-3z" fill="#000"/>
<path d="M409,906h4v1h-4zM409,907h1v1h-1zM409,908h4v1h-4zM412,909h1v1h-1zM409,910h4v1h-4zM415,906h4v1h-4zM415,907h1v1h-1zM418,907h1v1h-1zM415,908h1v1h-1zM418,908h1v1h-1zM415,909h1v1h-1zM418,909h1v1h-1zM415,910h4v1h-4z" fill="#000"/>
<path d="M601,906h4v1h-4zM601,907h1v1h-1zM601,908h4v1h-4zM604,909h1v1h-1zM601,910h4v1h-4zM609,906h1v1h-1zM608,907h2v1h-2zM609,908h1v1h-1zM609,909h1v1h-1zM608,910h3v1h-3z" fill="#000"/>
<g mask="url(#bm13_0)">
<rect x="99.8" y="919.5" width="75.7" height="17.0" rx="8.5" fill="#2a2a2a"/>
<rect x="100.7" y="920.4" width="73.9" height="15.2" rx="7.6" fill="#fff"/>
<rect x="101.6" y="921.3" width="72.1" height="13.399999999999999" rx="6.699999999999999" fill="#ffb83c"/>
</g>
<path d="M109.1,924 L110.1,924 C110.8,925.5 112.3,925.7 115.3,925 L115.3,931 C112.3,930.3 110.8,930.5 110.1,932 L109.1,932 Z" fill="#ff9c00" stroke="#6a4800" stroke-width="0.7"/>
<circle cx="122.3" cy="928" r="8.4" fill="url(#bhead)" stroke="#6a4800" stroke-width="0.8"/>
<path d="M118,925h4v1h-4zM121,926h1v1h-1zM118,927h4v1h-4zM118,928h1v1h-1zM118,929h4v1h-4z" fill="#000"/>
<circle cx="696" cy="928" r="12" fill="#2a2a2a"/>
<circle cx="696" cy="928" r="11" fill="#fff"/>
<circle cx="696" cy="928" r="9" fill="#44c4fc"/>
<circle cx="648" cy="928" r="12" fill="#2a2a2a"/>
<circle cx="648" cy="928" r="11" fill="#fff"/>
<circle cx="648" cy="928" r="9" fill="#ff4040"/>
<circle cx="600" cy="928" r="12" fill="#2a2a2a"/>
<circle cx="600" cy="928" r="11" fill="#fff"/>
<circle cx="600" cy="928" r="9" fill="#ff4040"/>
<circle cx="504" cy="928" r="9" fill="#2a2a2a"/>
<circle cx="504" cy="928" r="8" fill="#fff"/>
<circle cx="504" cy="928" r="7" fill="#ff4040"/>
<circle cx="456" cy="928" r="9" fill="#2a2a2a"/>
<circle cx="456" cy="928" r="8" fill="#fff"/>
<circle cx="456" cy="928" r="7" fill="#44c4fc"/>
<circle cx="432" cy="928" r="9" fill="#2a2a2a"/>
<circle cx="432" cy="928" r="8" fill="#fff"/>
<circle cx="432" cy="928" r="7" fill="#ff4040"/>
<circle cx="408" cy="928" r="9" fill="#2a2a2a"/>
<circle cx="408" cy="928" r="8" fill="#fff"/>
<circle cx="408" cy="928" r="7" fill="#ff4040"/>
<circle cx="312" cy="928" r="9" fill="#2a2a2a"/>
<circle cx="312" cy="928" r="8" fill="#fff"/>
<circle cx="312" cy="928" r="7" fill="#44c4fc"/>
<circle cx="288" cy="928" r="9" fill="#2a2a2a"/>
<circle cx="288" cy="928" r="8" fill="#fff"/>
<circle cx="288" cy="928" r="7" fill="#ff4040"/>
<circle cx="264" cy="928" r="9" fill="#2a2a2a"/>
<circle cx="264" cy="928" r="8" fill="#fff"/>
<circle cx="264" cy="928" r="7" fill="#44c4fc"/>
<circle cx="240" cy="928" r="9" fill="#2a2a2a"/>
<circle cx="240" cy="928" r="8" fill="#fff"/>
<circle cx="240" cy="928" r="7" fill="#ff4040"/>
<circle cx="216" cy="928" r="9" fill="#2a2a2a"/>
<circle cx="216" cy="928" r="8" fill="#fff"/>
<circle cx="216" cy="928" r="7" fill="#ff4040"/>
<circle cx="24" cy="928" r="9" fill="#2a2a2a"/>
<circle cx="24" cy="928" r="8" fill="#fff"/>
<circle cx="24" cy="928" r="7" fill="#ff4040"/>
<rect x="0" y="958" width="816" height="18" fill="#ffc0c0"/>
<rect x="0" y="976" width="816" height="32" fill="#000"/>
<rect x="0" y="978" width="816" height="28" fill="url(#lane)"/>
<rect x="47" y="976" width="2" height="32" fill="#fff" fill-opacity="0.3"/>
<rect x="71" y="976" width="2" height="32" fill="#fff" fill-opacity="0.6"/>
<rect x="95" y="976" width="2" height="32" fill="#fff" fill-opacity="0.3"/>
<rect x="119" y="976" width="2" height="32" fill="#fff" fill-opacity="0.6"/>
<rect x="143" y="976" width="2" height="32" fill="#fff" fill-opacity="0.3"/>
<rect x="167" y="976" width="2" height="32" fill="#fff" fill-opacity="0.6"/>
<rect x="191" y="976" width="2" height="32" fill="#fff" fill-opacity="0.3"/>
<rect x="239" y="976" width="2" height="32" fill="#fff" fill-opacity="0.3"/>
<rect x="263" y="976" width="2" height="32" fill="#fff" fill-opacity="0.6"/>
<rect x="287" y="976" width="2" height="32" fill="#fff" fill-opacity="0.3"/>
<rect x="311" y="976" width="2" height="32" fill="#fff" fill-opacity="0.6"/>
<rect x="335" y="976" width="2" height="32" fill="#fff" fill-opacity="0.3"/>
<rect x="359" y="976" width="2" height="32" fill="#fff" fill-opacity="0.6"/>
<rect x="383" y="976" width="2" height="32" fill="#fff" fill-opacity="0.3"/>
<rect x="431" y="976" width="2" height="32" fill="#fff" fill-opacity="0.3"/>
<rect x="455" y="976" width="2" height="32" fill="#fff" fill-opacity="0.6"/>
<rect x="479" y="976" width="2" height="32" fill="#fff" fill-opacity="0.3"/>
<rect x="503" y="976" width="2" height="32" fill="#fff" fill-opacity="0.6"/>
<rect x="527" y="976" width="2" height="32" fill="#fff" fill-opacity="0.3"/>
<rect x="551" y="976" width="2" height="32" fill="#fff" fill-opacity="0.6"/>
<rect x="575" y="976" width="2" height="32" fill="#fff" fill-opacity="0.3"/>
<rect x="623" y="976" width="2" height="32" fill="#fff" fill-opacity="0.3"/>
<rect x="647" y="976" width="2" height="32" fill="#fff" fill-opacity="0.6"/>
<rect x="671" y="976" width="2" height="32" fill="#fff" fill-opacity="0.3"/>
<rect x="695" y="976" width="2" height="32" fill="#fff" fill-opacity="0.6"/>
<rect x="719" y="976" width="2" height="32" fill="#fff" fill-opacity="0.3"/>
<rect x="743" y="976" width="2" height="32" fill="#fff" fill-opacity="0.6"/>
<rect x="767" y="976" width="2" height="32" fill="#fff" fill-opacity="0.3"/>
<rect x="23" y="958" width="2" height="50" fill="#fff"/>
<rect x="215" y="958" width="2" height="50" fill="#fff"/>
<rect x="407" y="958" width="2" height="50" fill="#fff"/>
<rect x="599" y="958" width="2" height="50" fill="#fff"/>
<rect x="791" y="958" width="2" height="50" fill="#fff"/>
<path d="M25,970h4v1h-4zM25,971h1v1h-1zM25,972h4v1h-4zM28,973h1v1h-1zM25,974h4v1h-4zM31,970h4v1h-4zM34,971h1v1h-1zM31,972h4v1h-4zM31,973h1v1h-1zM31,974h4v1h-4z" fill="#000"/>
<path d="M217,970h4v1h-4zM217,971h1v1h-1zM217,972h4v1h-4zM220,973h1v1h-1zM217,974h4v1h-4zM223,970h4v1h-4zM226,971h1v1h-1zM224,972h3v1h-3zM226,973h1v1h-1zM223,974h4v1h-4z" fill="#000"/>
<path d="M409,970h4v1h-4zM409,971h1v1h-1zM409,972h4v1h-4zM412,973h1v1h-1zM409,974h4v1h-4zM417,970h1v1h-1zM415,971h1v1h-1zM417,971h1v1h-1zM415,972h1v1h-1zM417,972h1v1h-1zM415,973h4v1h-4zM417,974h1v1h-1z" fill="#000"/>
<path d="M601,970h4v1h-4zM601,971h1v1h-1zM601,972h4v1h-4zM604,973h1v1h-1zM601,974h4v1h-4zM607,970h4v1h-4zM607,971h1v1h-1zM607,972h4v1h-4zM610,973h1v1h-1zM607,974h4v1h-4z" fill="#000"/>
<circle cx="696" cy="992" r="12" fill="#2a2a2a"/>
<circle cx="696" cy="992" r="11" fill="#fff"/>
<circle cx="696" cy="992" r="9" fill="#44c4fc"/>
<circle cx="648" cy="992" r="12" fill="#2a2a2a"/>
<circle cx="648" cy="992" r="11" fill="#fff"/>
<circle cx="648" cy="992" r="9" fill="#ff4040"/>
<circle cx="600" cy="992" r="12" fill="#2a2a2a"/>
<circle cx="600" cy="992" r="11" fill="#fff"/>
<circle cx="600" cy="992" r="9" fill="#ff4040"/>
<circle cx="552" cy="992" r="9" fill="#2a2a2a"/>
<circle cx="552" cy="992" r="8" fill="#fff"/>
<circle cx="552" cy="992" r="7" fill="#44c4fc"/>
<circle cx="528" cy="992" r="9" fill="#2a2a2a"/>
<circle cx="528" cy="992" r="8" fill="#fff"/>
<circle cx="528" cy="992" r="7" fill="#ff4040"/>
<circle cx="504" cy="992" r="9" fill="#2a2a2a"/>
<circle cx="504" cy="992" r="8" fill="#fff"/>
<circle cx="504" cy="992" r="7" fill="#ff4040"/>
<circle cx="456" cy="992" r="9" fill="#2a2a2a"/>
<circle cx="456" cy="992" r="8" fill="#fff"/>
<circle cx="456" cy="992" r="7" fill="#44c4fc"/>
<circle cx="432" cy="992" r="9" fill="#2a2a2a"/>
<circle cx="432" cy="992" r="8" fill="#fff"/>
<circle cx="432" cy="992" r="7" fill="#ff4040"/>
<circle cx="408" cy="992" r="9" fill="#2a2a2a"/>
<circle cx="408" cy="992" r="8" fill="#fff"/>
<circle cx="408" cy="992" r="7" fill="#ff4040"/>
<circle cx="312" cy="992" r="12" fill="#2a2a2a"/>
<circle cx="312" cy="992" r="11" fill="#fff"/>
<circle cx="312" cy="992" r="9" fill="#44c4fc"/>
<circle cx="288" cy="992" r="12" fill="#2a2a2a"/>
<circle cx="288" cy="992" r="11" fill="#fff"/>
<circle cx="288" cy="992" r="9" fill="#ff4040"/>
<circle cx="264" cy="992" r="12" fill="#2a2a2a"/>
<circle cx="264" cy="992" r="11" fill="#fff"/>
<circle cx="264" cy="992" r="9" fill="#44c4fc"/>
<circle cx="240" cy="992" r="12" fill="#2a2a2a"/>
<circle cx="240" cy="992" r="11" fill="#fff"/>
<circle cx="240" cy="992" r="9" fill="#ff4040"/>
<circle cx="216" cy="992" r="12" fill="#2a2a2a"/>
<circle cx="216" cy="992" r="11" fill="#fff"/>
<circle cx="216" cy="992" r="9" fill="#ff4040"/>
<circle cx="120" cy="992" r="12" fill="#2a2a2a"/>
<circle cx="120" cy="992" r="11" fill="#fff"/>
<circle cx="120" cy="992" r="9" fill="#44c4fc"/>
<circle cx="24" cy="992" r="12" fill="#2a2a2a"/>
<circle cx="24" cy="992" r="11" fill="#fff"/>
<circle cx="24" cy="992" r="9" fill="#ff4040"/>
<rect x="0" y="1040" width="816" height="32" fill="#000"/>
<rect x="0" y="1042" width="816" height="28" fill="url(#lane)"/>
<rect x="47" y="1040" width="2" height="32" fill="#fff" fill-opacity="0.3"/>
<rect x="71" y="1040" width="2" height="32" fill="#fff" fill-opacity="0.6"/>
<rect x="95" y="1040" width="2" height="32" fill="#fff" fill-opacity="0.3"/>
<rect x="119" y="1040" width="2" height="32" fill="#fff" fill-opacity="0.6"/>
<rect x="143" y="1040" width="2" height="32" fill="#fff" fill-opacity="0.3"/>
<rect x="167" y="1040" width="2" height="32" fill="#fff" fill-opacity="0.6"/>
<rect x="191" y="1040" width="2" height="32" fill="#fff" fill-opacity="0.3"/>
<rect x="239" y="1040" width="2" height="32" fill="#fff" fill-opacity="0.3"/>
<rect x="263" y="1040" width="2" height="32" fill="#fff" fill-opacity="0.6"/>
<rect x="287" y="1040" width="2" height="32" fill="#fff" fill-opacity="0.3"/>
<rect x="311" y="1040" width="2" height="32" fill="#fff" fill-opacity="0.6"/>
<rect x="335" y="1040" width="2" height="32" fill="#fff" fill-opacity="0.3"/>
<rect x="359" y="1040" width="2" height="32" fill="#fff" fill-opacity="0.6"/>
<rect x="383" y="1040" width="2" height="32" fill="#fff" fill-opacity="0.3"/>
<rect x="431" y="1040" width="2" height="32" fill="#fff" fill-opacity="0.3"/>
<rect x="455" y="1040" width="2" height="32" fill="#fff" fill-opacity="0.6"/>
<rect x="479" y="1040" width="2" height="32" fill="#fff" fill-opacity="0.3"/>
<rect x="503" y="1040" width="2" height="32" fill="#fff" fill-opacity="0.6"/>
<rect x="527" y="1040" width="2" height="32" fill="#fff" fill-opacity="0.3"/>
<rect x="551" y="1040" width="2" height="32" fill="#fff" fill-opacity="0.6"/>
<rect x="575" y="1040" width="2" height="32" fill="#fff" fill-opacity="0.3"/>
<rect x="623" y="1040" width="2" height="32" fill="#fff" fill-opacity="0.3"/>
<rect x="647" y="1040" width="2" height="32" fill="#fff" fill-opacity="0.6"/>
<rect x="671" y="1040" width="2" height="32" fill="#fff" fill-opacity="0.3"/>
<rect x="695" y="1040" width="2" height="32" fill="#fff" fill-opacity="0.6"/>
<rect x="719" y="1040" width="2" height="32" fill="#fff" fill-opacity="0.3"/>
<rect x="743" y="1040" width="2" height="32" fill="#fff" fill-opacity="0.6"/>
<rect x="767" y="1040" width="2" height="32" fill="#fff" fill-opacity="0.3"/>
<rect x="23" y="1022" width="2" height="50" fill="#fff"/>
<rect x="215" y="1022" width="2" height="50" fill="#fff"/>
<rect x="407" y="1022" width="2" height="50" fill="#fff"/>
<rect x="599" y="1022" width="2" height="50" fill="#fff"/>
<rect x="791" y="1022" width="2" height="50" fill="#fff"/>
<path d="M25,1034h4v1h-4zM25,1035h1v1h-1zM25,1036h4v1h-4zM28,1037h1v1h-1zM25,1038h4v1h-4zM31,1034h4v1h-4zM31,1035h1v1h-1zM31,1036h4v1h-4zM31,1037h1v1h-1zM34,1037h1v1h-1zM31,1038h4v1h-4z" fill="#000"/>
<path d="M217,1034h4v1h-4zM217,1035h1v1h-1zM217,1036h4v1h-4zM220,1037h1v1h-1zM217,1038h4v1h-4zM223,1034h4v1h-4zM223,1035h1v1h-1zM226,1035h1v1h-1zM226,1036h1v1h-1zM226,1037h1v1h-1zM226,1038h1v1h-1z" fill="#000"/>
<path d="M409,1034h4v1h-4zM409,1035h1v1h-1zM409,1036h4v1h-4zM412,1037h1v1h-1zM409,1038h4v1h-4zM415,1034h4v1h-4zM415,1035h1v1h-1zM418,1035h1v1h-1zM415,1036h4v1h-4zM415,1037h1v1h-1zM418,1037h1v1h-1zM415,1038h4v1h-4z" fill="#000"/>
<path d="M601,1034h4v1h-4zM601,1035h1v1h-1zM601,1036h4v1h-4zM604,1037h1v1h-1zM601,1038h4v1h-4zM607,1034h4v1h-4zM607,1035h1v1h-1zM610,1035h1v1h-1zM607,1036h4v1h-4zM610,1037h1v1h-1zM608,1038h3v1h-3z" fill="#000"/>
<circle cx="744" cy="1056" r="9" fill="#2a2a2a"/>
<circle cx="744" cy="1056" r="8" fill="#fff"/>
<circle cx="744" cy="1056" r="7" fill="#44c4fc"/>
<circle cx="696" cy="1056" r="9" fill="#2a2a2a"/>
<circle cx="696" cy="1056" r="8" fill="#fff"/>
<circle cx="696" cy="1056" r="7" fill="#44c4fc"/>
<circle cx="648" cy="1056" r="9" fill="#2a2a2a"/>
<circle cx="648" cy="1056" r="8" fill="#fff"/>
<circle cx="648" cy="1056" r="7" fill="#44c4fc"/>
<circle cx="600" cy="1056" r="9" fill="#2a2a2a"/>
<circle cx="600" cy="1056" r="8" fill="#fff"/>
<circle cx="600" cy="1056" r="7" fill="#44c4fc"/>
<circle cx="552" cy="1056" r="9" fill="#2a2a2a"/>
<circle cx="552" cy="1056" r="8" fill="#fff"/>
<circle cx="552" cy="1056" r="7" fill="#44c4fc"/>
<circle cx="504" cy="1056" r="9" fill="#2a2a2a"/>
<circle cx="504" cy="1056" r="8" fill="#fff"/>
<circle cx="504" cy="1056" r="7" fill="#44c4fc"/>
<circle cx="456" cy="1056" r="9" fill="#2a2a2a"/>
<circle cx="456" cy="1056" r="8" fill="#fff"/>
<circle cx="456" cy="1056" r="7" fill="#44c4fc"/>
<circle cx="360" cy="1056" r="9" fill="#2a2a2a"/>
<circle cx="360" cy="1056" r="8" fill="#fff"/>
<circle cx="360" cy="1056" r="7" fill="#44c4fc"/>
<circle cx="312" cy="1056" r="9" fill="#2a2a2a"/>
<circle cx="312" cy="1056" r="8" fill="#fff"/>
<circle cx="312" cy="1056" r="7" fill="#44c4fc"/>
<circle cx="264" cy="1056" r="9" fill="#2a2a2a"/>
<circle cx="264" cy="1056" r="8" fill="#fff"/>
<circle cx="264" cy="1056" r="7" fill="#44c4fc"/>
<circle cx="216" cy="1056" r="9" fill="#2a2a2a"/>
<circle cx="216" cy="1056" r="8" fill="#fff"/>
<circle cx="216" cy="1056" r="7" fill="#44c4fc"/>
<circle cx="168" cy="1056" r="9" fill="#2a2a2a"/>
<circle cx="168" cy="1056" r="8" fill="#fff"/>
<circle cx="168" cy="1056" r="7" fill="#44c4fc"/>
<circle cx="120" cy="1056" r="9" fill="#2a2a2a"/>
<circle cx="120" cy="1056" r="8" fill="#fff"/>
<circle cx="120" cy="1056" r="7" fill="#44c4fc"/>
<circle cx="72" cy="1056" r="9" fill="#2a2a2a"/>
<circle cx="72" cy="1056" r="8" fill="#fff"/>
<circle cx="72" cy="1056" r="7" fill="#44c4fc"/>
<rect x="0" y="1104" width="432" height="32" fill="#000"/>
<rect x="0" y="1106" width="432" height="28" fill="url(#lane)"/>
<rect x="47" y="1104" width="2" height="32" fill="#fff" fill-opacity="0.3"/>
<rect x="71" y="1104" width="2" height="32" fill="#fff" fill-opacity="0.6"/>
<rect x="95" y="1104" width="2" height="32" fill="#fff" fill-opacity="0.3"/>
<rect x="119" y="1104" width="2" height="32" fill="#fff" fill-opacity="0.6"/>
<rect x="143" y="1104" width="2" height="32" fill="#fff" fill-opacity="0.3"/>
<rect x="167" y="1104" width="2" height="32" fill="#fff" fill-opacity="0.6"/>
<rect x="191" y="1104" width="2" height="32" fill="#fff" fill-opacity="0.3"/>
<rect x="239" y="1104" width="2" height="32" fill="#fff" fill-opacity="0.3"/>
<rect x="263" y="1104" width="2" height="32" fill="#fff" fill-opacity="0.6"/>
<rect x="287" y="1104" width="2" height="32" fill="#fff" fill-opacity="0.3"/>
<rect x="311" y="1104" width="2" height="32" fill="#fff" fill-opacity="0.6"/>
<rect x="335" y="1104" width="2" height="32" fill="#fff" fill-opacity="0.3"/>
<rect x="359" y="1104" width="2" height="32" fill="#fff" fill-opacity="0.6"/>
<rect x="383" y="1104" width="2" height="32" fill="#fff" fill-opacity="0.3"/>
<rect x="23" y="1086" width="2" height="50" fill="#fff"/>
<rect x="215" y="1086" width="2" height="50" fill="#fff"/>
<rect x="407" y="1104" width="2" height="32" fill="#fff" fill-opacity="0.6"/>
<path d="M25,1098h4v1h-4zM25,1099h1v1h-1zM25,1100h4v1h-4zM25,1101h1v1h-1zM28,1101h1v1h-1zM25,1102h4v1h-4zM31,1098h4v1h-4zM31,1099h1v1h-1zM34,1099h1v1h-1zM31,1100h1v1h-1zM34,1100h1v1h-1zM31,1101h1v1h-1zM34,1101h1v1h-1zM31,1102h4v1h-4z" fill="#000"/>
<path d="M217,1098h4v1h-4zM217,1099h1v1h-1zM217,1100h4v1h-4zM217,1101h1v1h-1zM220,1101h1v1h-1zM217,1102h4v1h-4zM225,1098h1v1h-1zM224,1099h2v1h-2zM225,1100h1v1h-1zM225,1101h1v1h-1zM224,1102h3v1h-3z" fill="#000"/>
<path d="M14,11.8 L29.5,10.4 M24.5,11.2 L23.2,13.2" stroke="#000" stroke-width="1.4" fill="none" stroke-linecap="square" stroke-linejoin="miter"/>
<path d="M15.5,13.2 L16.8,14.4 M21,12.8 L22.3,14.4 M27.6,12.8 L26.6,14.2" stroke="#000" stroke-width="1.4" fill="none" stroke-linecap="square" stroke-linejoin="miter"/>
<path d="M13.6,17.6 L13.6,15.3 L31.4,15.3 L31.4,17.4" stroke="#000" stroke-width="1.4" fill="none" stroke-linecap="square" stroke-linejoin="miter"/>
<path d="M15.6,16.9 L16.6,18.2 M18.6,16.6 L18.6,18.7 L24,18.7 M25.6,16.9 L26.6,18 M29,16.6 L30.2,18.2" stroke="#000" stroke-width="1.4" fill="none" stroke-linecap="square" stroke-linejoin="miter"/>
<path d="M17.6,20.6 L25.2,20.6 C22,22.5 18,23.6 14.4,23.8 M19.8,21.6 C23,23.5 27,25.8 31.6,26.6 M13.4,26.5 L22.5,26.5" stroke="#000" stroke-width="1.4" fill="none" stroke-linecap="square" stroke-linejoin="miter"/>
<path d="M40.6,14 L39,12.6 L36,12.6 L34.6,14 L34.6,19 L40.6,24.6 L46.6,19 L46.6,14 L45.2,12.6 L42.2,12.6 Z" stroke="#000" stroke-width="1.4" fill="none" stroke-linecap="square" stroke-linejoin="miter"/>
<path d="M50,13 L61.5,13 C59,19 54,24 48.5,27 M56,20.5 L63,26.5" stroke="#000" stroke-width="1.4" fill="none" stroke-linecap="square" stroke-linejoin="miter"/>
<path d="M71.5,10.5 C70.5,13 69,15 67,17 M70.5,13.5 L79.5,13.5 C78.5,20 75,24.5 70,27" stroke="#000" stroke-width="1.4" fill="none" stroke-linecap="square" stroke-linejoin="miter"/>
<path d="M83,11 L83,21 M91.5,10 L91.5,19 C91.5,23 89,25.5 84.5,27" stroke="#000" stroke-width="1.4" fill="none" stroke-linecap="square" stroke-linejoin="miter"/>
<path d="M95.5,18.5 C98,14 101,14 104.5,17 C108,20 111,20 113.5,15" stroke="#000" stroke-width="1.4" fill="none" stroke-linecap="square" stroke-linejoin="miter"/>
<path d="M124.5,10.5 C122,16 119.5,22 117,26 L129.5,25 M127.5,20.5 C129.5,22.5 131,24.5 132.5,27" stroke="#000" stroke-width="1.4" fill="none" stroke-linecap="square" stroke-linejoin="miter"/>
<rect x="143" y="10" width="3" height="11" fill="#000"/>
<rect x="143" y="23" width="3" height="2" fill="#000"/>
<path d="M10,44.5 L17,44.5 M13.5,40.5 L13.5,51 C13.5,54 10,54 10,51.5 C10,49 14,49 15.5,52 C16.5,54 20,54 21,50.5 M20.5,42 L21.5,44" stroke="#000" stroke-width="1.4" fill="none" stroke-linecap="square" stroke-linejoin="miter"/>
<path d="M26,44 L38,44 M33,40.5 L33,48 C33,51 28.5,50.5 29.5,48.5 C30.5,46.5 33,47.5 33,50 C33,53 31,54.5 29.5,55 M36,40.5 L37,42 M38.5,40 L39.5,41.5" stroke="#000" stroke-width="1.4" fill="none" stroke-linecap="square" stroke-linejoin="miter"/>
<path d="M40.5,45 L47,44.2 C48,48 47,53 44.5,54.5 M44.5,40.5 C44,46 42.5,50 40,54.5 M49,44 C50,45.5 51,47.5 51.5,49.5" stroke="#000" stroke-width="1.4" fill="none" stroke-linecap="square" stroke-linejoin="miter"/>
<path d="M57,40.5 L57,50 C57,55 61,55 65.5,50" stroke="#000" stroke-width="1.4" fill="none" stroke-linecap="square" stroke-linejoin="miter"/>
<path d="M70,43 C70,47 70.5,51 72,53.5 C73,54.5 74,53.5 74.5,52 M78,45 C79.5,46.5 80.5,48.5 81,50.5" stroke="#000" stroke-width="1.4" fill="none" stroke-linecap="square" stroke-linejoin="miter"/>
<polygon points="96.00,40.10 98.14,45.25 103.70,45.70 99.47,49.33 100.76,54.75 96.00,51.85 91.24,54.75 92.53,49.33 88.30,45.70 93.86,45.25" fill="#000"/>
<polygon points="114.00,40.10 116.14,45.25 121.70,45.70 117.47,49.33 118.76,54.75 114.00,51.85 109.24,54.75 110.53,49.33 106.30,45.70 111.86,45.25" fill="#000"/>
<polygon points="132.00,40.10 134.14,45.25 139.70,45.70 135.47,49.33 136.76,54.75 132.00,51.85 127.24,54.75 128.53,49.33 124.30,45.70 129.86,45.25" fill="#000"/>
<polygon points="150.00,40.10 152.14,45.25 157.70,45.70 153.47,49.33 154.76,54.75 150.00,51.85 145.24,54.75 146.53,49.33 142.30,45.70 147.86,45.25" fill="#000"/>
<polygon points="168.00,40.60 169.92,45.56 175.23,45.85 171.11,49.21 172.47,54.35 168.00,51.47 163.53,54.35 164.89,49.21 160.77,45.85 166.08,45.56" fill="none" stroke="#000" stroke-width="1.2" stroke-linejoin="round"/>
<polygon points="186.00,40.60 187.92,45.56 193.23,45.85 189.11,49.21 190.47,54.35 186.00,51.47 181.53,54.35 182.89,49.21 178.77,45.85 184.08,45.56" fill="none" stroke="#000" stroke-width="1.2" stroke-linejoin="round"/>
<polygon points="204.00,40.60 205.92,45.56 211.23,45.85 207.11,49.21 208.47,54.35 204.00,51.47 199.53,54.35 200.89,49.21 196.77,45.85 202.08,45.56" fill="none" stroke="#000" stroke-width="1.2" stroke-linejoin="round"/>
<polygon points="222.00,40.60 223.92,45.56 229.23,45.85 225.11,49.21 226.47,54.35 222.00,51.47 217.53,54.35 218.89,49.21 214.77,45.85 220.08,45.56" fill="none" stroke="#000" stroke-width="1.2" stroke-linejoin="round"/></svg>
</body></html>
